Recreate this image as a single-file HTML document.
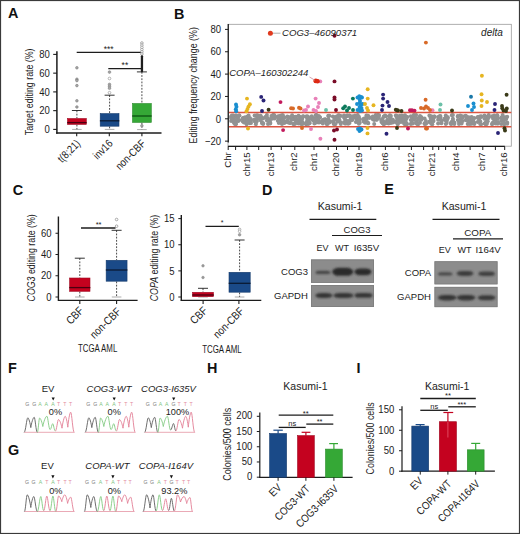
<!DOCTYPE html>
<html><head><meta charset="utf-8"><style>
html,body{margin:0;padding:0;background:#fff;}
svg{display:block;font-family:"Liberation Sans", sans-serif;}
</style></head><body>
<svg width="520" height="534" viewBox="0 0 520 534">
<defs><filter id="bl" x="-20%" y="-60%" width="140%" height="220%"><feGaussianBlur stdDeviation="0.9"/></filter></defs>
<rect width="520" height="534" fill="#fff"/>
<text transform="translate(8.00 18.40)" font-size="14.4" text-anchor="start" font-weight="bold" font-style="normal" fill="#111" class="pl">A</text>
<text transform="translate(174.00 18.50)" font-size="14.4" text-anchor="start" font-weight="bold" font-style="normal" fill="#111" class="pl">B</text>
<text transform="translate(12.80 194.80)" font-size="14.4" text-anchor="start" font-weight="bold" font-style="normal" fill="#111" class="pl">C</text>
<text transform="translate(262.00 194.80)" font-size="14.4" text-anchor="start" font-weight="bold" font-style="normal" fill="#111" class="pl">D</text>
<text transform="translate(384.20 193.90)" font-size="14.4" text-anchor="start" font-weight="bold" font-style="normal" fill="#111" class="pl">E</text>
<text transform="translate(7.90 372.80)" font-size="14.4" text-anchor="start" font-weight="bold" font-style="normal" fill="#111" class="pl">F</text>
<text transform="translate(8.10 454.80)" font-size="14.4" text-anchor="start" font-weight="bold" font-style="normal" fill="#111" class="pl">G</text>
<text transform="translate(207.10 372.60)" font-size="14.4" text-anchor="start" font-weight="bold" font-style="normal" fill="#111" class="pl">H</text>
<text transform="translate(356.40 372.60)" font-size="14.4" text-anchor="start" font-weight="bold" font-style="normal" fill="#111" class="pl">I</text>
<line x1="56.90" y1="51.30" x2="56.90" y2="133.80" stroke="#1c1c1c" stroke-width="1.5" />
<line x1="56.20" y1="133.10" x2="161.50" y2="133.10" stroke="#1c1c1c" stroke-width="1.5" />
<line x1="53.20" y1="129.40" x2="57.00" y2="129.40" stroke="#1c1c1c" stroke-width="1.1" />
<text transform="translate(49.80 133.10) scale(0.9 1)" font-size="10.6" text-anchor="end" font-weight="normal" font-style="normal" fill="#1c1c1c" >0</text>
<line x1="53.20" y1="110.65" x2="57.00" y2="110.65" stroke="#1c1c1c" stroke-width="1.1" />
<text transform="translate(49.80 114.35) scale(0.9 1)" font-size="10.6" text-anchor="end" font-weight="normal" font-style="normal" fill="#1c1c1c" >20</text>
<line x1="53.20" y1="91.90" x2="57.00" y2="91.90" stroke="#1c1c1c" stroke-width="1.1" />
<text transform="translate(49.80 95.60) scale(0.9 1)" font-size="10.6" text-anchor="end" font-weight="normal" font-style="normal" fill="#1c1c1c" >40</text>
<line x1="53.20" y1="73.15" x2="57.00" y2="73.15" stroke="#1c1c1c" stroke-width="1.1" />
<text transform="translate(49.80 76.85) scale(0.9 1)" font-size="10.6" text-anchor="end" font-weight="normal" font-style="normal" fill="#1c1c1c" >60</text>
<line x1="53.20" y1="54.40" x2="57.00" y2="54.40" stroke="#1c1c1c" stroke-width="1.1" />
<text transform="translate(49.80 58.10) scale(0.9 1)" font-size="10.6" text-anchor="end" font-weight="normal" font-style="normal" fill="#1c1c1c" >80</text>
<line x1="76.70" y1="133.00" x2="76.70" y2="136.20" stroke="#1c1c1c" stroke-width="1.1" />
<line x1="109.30" y1="133.00" x2="109.30" y2="136.20" stroke="#1c1c1c" stroke-width="1.1" />
<line x1="141.90" y1="133.00" x2="141.90" y2="136.20" stroke="#1c1c1c" stroke-width="1.1" />
<text transform="translate(33.10 91.80) rotate(-90) scale(0.76 1)" font-size="11.6" text-anchor="middle" font-weight="normal" font-style="normal" fill="#1c1c1c" >Target editing rate (%)</text>
<text transform="translate(81.00 144.20) rotate(-45) scale(0.85 1)" font-size="11" text-anchor="end" font-weight="normal" font-style="normal" fill="#1c1c1c" >t(8;21)</text>
<text transform="translate(113.30 144.20) rotate(-45) scale(0.85 1)" font-size="11" text-anchor="end" font-weight="normal" font-style="normal" fill="#1c1c1c" >inv16</text>
<text transform="translate(146.30 144.20) rotate(-45) scale(0.85 1)" font-size="11" text-anchor="end" font-weight="normal" font-style="normal" fill="#1c1c1c" >non-CBF</text>
<line x1="76.70" y1="52.30" x2="141.90" y2="52.30" stroke="#1c1c1c" stroke-width="1.3" />
<text transform="translate(108.60 51.70)" font-size="8.5" text-anchor="middle" font-weight="normal" font-style="normal" fill="#1c1c1c" >***</text>
<line x1="108.30" y1="68.60" x2="141.90" y2="68.60" stroke="#1c1c1c" stroke-width="1.3" />
<text transform="translate(124.90 67.90)" font-size="8.5" text-anchor="middle" font-weight="normal" font-style="normal" fill="#1c1c1c" >**</text>
<line x1="76.90" y1="110.50" x2="76.90" y2="118.20" stroke="#1c1c1c" stroke-width="0.8" stroke-dasharray="1.8,1.4" />
<line x1="76.90" y1="124.70" x2="76.90" y2="129.40" stroke="#1c1c1c" stroke-width="0.8" stroke-dasharray="1.8,1.4" />
<line x1="71.90" y1="110.50" x2="81.90" y2="110.50" stroke="#1c1c1c" stroke-width="0.9" />
<line x1="72.10" y1="129.40" x2="81.70" y2="129.40" stroke="#8a8a8a" stroke-width="0.7" />
<rect x="67.50" y="118.50" width="18.80" height="5.90" fill="#c4021f" stroke="#a00a22" stroke-width="0.6" />
<line x1="67.20" y1="122.60" x2="86.60" y2="122.60" stroke="#4a0010" stroke-width="1.3" />
<circle cx="76.90" cy="67.80" r="1.3" fill="#a8a8a8" stroke="#7a7a7a" stroke-width="0.6"/>
<circle cx="76.90" cy="79.20" r="1.3" fill="#a8a8a8" stroke="#7a7a7a" stroke-width="0.6"/>
<circle cx="76.90" cy="80.60" r="1.3" fill="#a8a8a8" stroke="#7a7a7a" stroke-width="0.6"/>
<circle cx="76.90" cy="85.60" r="1.3" fill="#a8a8a8" stroke="#7a7a7a" stroke-width="0.6"/>
<circle cx="76.90" cy="100.80" r="1.3" fill="#a8a8a8" stroke="#7a7a7a" stroke-width="0.6"/>
<circle cx="76.90" cy="107.00" r="1.3" fill="#a8a8a8" stroke="#7a7a7a" stroke-width="0.6"/>
<line x1="109.60" y1="95.20" x2="109.60" y2="113.30" stroke="#1c1c1c" stroke-width="0.8" stroke-dasharray="1.8,1.4" />
<line x1="109.60" y1="126.50" x2="109.60" y2="129.40" stroke="#1c1c1c" stroke-width="0.8" stroke-dasharray="1.8,1.4" />
<line x1="104.60" y1="95.20" x2="114.60" y2="95.20" stroke="#1c1c1c" stroke-width="0.9" />
<line x1="104.80" y1="129.40" x2="114.40" y2="129.40" stroke="#8a8a8a" stroke-width="0.7" />
<rect x="100.20" y="113.60" width="18.80" height="12.60" fill="#1a4a88" stroke="#143a6c" stroke-width="0.6" />
<line x1="99.90" y1="120.80" x2="119.30" y2="120.80" stroke="#0a1a33" stroke-width="1.3" />
<circle cx="109.50" cy="72.10" r="1.35" fill="#a0a0a0" stroke="#888" stroke-width="0.6"/>
<circle cx="109.50" cy="78.50" r="1.35" fill="#fff" stroke="#888" stroke-width="0.6"/>
<circle cx="109.50" cy="84.40" r="1.35" fill="#a8a8a8" stroke="#888" stroke-width="0.6"/>
<circle cx="109.50" cy="86.20" r="1.35" fill="#a8a8a8" stroke="#888" stroke-width="0.6"/>
<circle cx="109.50" cy="88.20" r="1.35" fill="#a8a8a8" stroke="#888" stroke-width="0.6"/>
<circle cx="109.50" cy="92.70" r="1.35" fill="#fff" stroke="#888" stroke-width="0.6"/>
<line x1="141.90" y1="71.90" x2="141.90" y2="103.20" stroke="#1c1c1c" stroke-width="0.8" stroke-dasharray="1.8,1.4" />
<line x1="141.90" y1="122.70" x2="141.90" y2="129.60" stroke="#1c1c1c" stroke-width="0.8" stroke-dasharray="1.8,1.4" />
<line x1="136.90" y1="71.90" x2="146.90" y2="71.90" stroke="#1c1c1c" stroke-width="0.9" />
<line x1="137.10" y1="129.60" x2="146.70" y2="129.60" stroke="#8a8a8a" stroke-width="0.7" />
<rect x="132.50" y="103.50" width="18.80" height="18.90" fill="#35a836" stroke="#2a8a2c" stroke-width="0.6" />
<line x1="132.20" y1="116.00" x2="151.60" y2="116.00" stroke="#0b4f10" stroke-width="1.3" />
<circle cx="141.90" cy="43.00" r="1.3" fill="#fff" stroke="#8a8a8a" stroke-width="0.7"/>
<circle cx="141.90" cy="45.20" r="1.3" fill="#fff" stroke="#8a8a8a" stroke-width="0.7"/>
<circle cx="141.90" cy="47.40" r="1.3" fill="#fff" stroke="#8a8a8a" stroke-width="0.7"/>
<circle cx="141.90" cy="49.60" r="1.3" fill="#fff" stroke="#8a8a8a" stroke-width="0.7"/>
<circle cx="141.90" cy="51.80" r="1.3" fill="#fff" stroke="#8a8a8a" stroke-width="0.7"/>
<circle cx="141.90" cy="54.00" r="1.3" fill="#fff" stroke="#8a8a8a" stroke-width="0.7"/>
<rect x="140.80" y="55.30" width="2.30" height="17.00" fill="#1e1e1e" rx="1"/>
<circle cx="141.90" cy="125.80" r="1.3" fill="#a8a8a8" stroke="#808080" stroke-width="0.6"/>
<rect x="228.00" y="24.30" width="283.30" height="121.90" fill="none" stroke="#9a9a9a" stroke-width="0.8" />
<line x1="228.30" y1="24.00" x2="228.30" y2="142.50" stroke="#1c1c1c" stroke-width="1.2" />
<line x1="225.00" y1="141.15" x2="228.30" y2="141.15" stroke="#1c1c1c" stroke-width="1" />
<text transform="translate(221.00 144.85) scale(0.9 1)" font-size="10.6" text-anchor="end" font-weight="normal" font-style="normal" fill="#1c1c1c" >−20</text>
<line x1="225.00" y1="118.80" x2="228.30" y2="118.80" stroke="#1c1c1c" stroke-width="1" />
<text transform="translate(221.00 122.50) scale(0.9 1)" font-size="10.6" text-anchor="end" font-weight="normal" font-style="normal" fill="#1c1c1c" >0</text>
<line x1="225.00" y1="96.45" x2="228.30" y2="96.45" stroke="#1c1c1c" stroke-width="1" />
<text transform="translate(221.00 100.15) scale(0.9 1)" font-size="10.6" text-anchor="end" font-weight="normal" font-style="normal" fill="#1c1c1c" >20</text>
<line x1="225.00" y1="74.10" x2="228.30" y2="74.10" stroke="#1c1c1c" stroke-width="1" />
<text transform="translate(221.00 77.80) scale(0.9 1)" font-size="10.6" text-anchor="end" font-weight="normal" font-style="normal" fill="#1c1c1c" >40</text>
<line x1="225.00" y1="51.75" x2="228.30" y2="51.75" stroke="#1c1c1c" stroke-width="1" />
<text transform="translate(221.00 55.45) scale(0.9 1)" font-size="10.6" text-anchor="end" font-weight="normal" font-style="normal" fill="#1c1c1c" >60</text>
<line x1="225.00" y1="29.40" x2="228.30" y2="29.40" stroke="#1c1c1c" stroke-width="1" />
<text transform="translate(221.00 33.10) scale(0.9 1)" font-size="10.6" text-anchor="end" font-weight="normal" font-style="normal" fill="#1c1c1c" >80</text>
<line x1="228.00" y1="146.40" x2="504.80" y2="146.40" stroke="#1c1c1c" stroke-width="1.2" />
<line x1="228.20" y1="146.40" x2="228.20" y2="150.00" stroke="#1c1c1c" stroke-width="1" />
<line x1="235.60" y1="146.40" x2="235.60" y2="150.00" stroke="#1c1c1c" stroke-width="1" />
<line x1="246.90" y1="146.40" x2="246.90" y2="150.00" stroke="#1c1c1c" stroke-width="1" />
<line x1="258.70" y1="146.40" x2="258.70" y2="150.00" stroke="#1c1c1c" stroke-width="1" />
<line x1="271.10" y1="146.40" x2="271.10" y2="150.00" stroke="#1c1c1c" stroke-width="1" />
<line x1="281.30" y1="146.40" x2="281.30" y2="150.00" stroke="#1c1c1c" stroke-width="1" />
<line x1="294.80" y1="146.40" x2="294.80" y2="150.00" stroke="#1c1c1c" stroke-width="1" />
<line x1="314.00" y1="146.40" x2="314.00" y2="150.00" stroke="#1c1c1c" stroke-width="1" />
<line x1="328.20" y1="146.40" x2="328.20" y2="150.00" stroke="#1c1c1c" stroke-width="1" />
<line x1="336.50" y1="146.40" x2="336.50" y2="150.00" stroke="#1c1c1c" stroke-width="1" />
<line x1="347.50" y1="146.40" x2="347.50" y2="150.00" stroke="#1c1c1c" stroke-width="1" />
<line x1="359.00" y1="146.40" x2="359.00" y2="150.00" stroke="#1c1c1c" stroke-width="1" />
<line x1="370.80" y1="146.40" x2="370.80" y2="150.00" stroke="#1c1c1c" stroke-width="1" />
<line x1="385.40" y1="146.40" x2="385.40" y2="150.00" stroke="#1c1c1c" stroke-width="1" />
<line x1="399.00" y1="146.40" x2="399.00" y2="150.00" stroke="#1c1c1c" stroke-width="1" />
<line x1="411.40" y1="146.40" x2="411.40" y2="150.00" stroke="#1c1c1c" stroke-width="1" />
<line x1="423.60" y1="146.40" x2="423.60" y2="150.00" stroke="#1c1c1c" stroke-width="1" />
<line x1="432.80" y1="146.40" x2="432.80" y2="150.00" stroke="#1c1c1c" stroke-width="1" />
<line x1="438.70" y1="146.40" x2="438.70" y2="150.00" stroke="#1c1c1c" stroke-width="1" />
<line x1="445.60" y1="146.40" x2="445.60" y2="150.00" stroke="#1c1c1c" stroke-width="1" />
<line x1="456.30" y1="146.40" x2="456.30" y2="150.00" stroke="#1c1c1c" stroke-width="1" />
<line x1="470.10" y1="146.40" x2="470.10" y2="150.00" stroke="#1c1c1c" stroke-width="1" />
<line x1="482.80" y1="146.40" x2="482.80" y2="150.00" stroke="#1c1c1c" stroke-width="1" />
<line x1="495.40" y1="146.40" x2="495.40" y2="150.00" stroke="#1c1c1c" stroke-width="1" />
<line x1="504.70" y1="146.40" x2="504.70" y2="150.00" stroke="#1c1c1c" stroke-width="1" />
<text transform="translate(196.60 85.30) rotate(-90) scale(0.765 1)" font-size="11.6" text-anchor="middle" font-weight="normal" font-style="normal" fill="#1c1c1c" >Editing frequency change (%)</text>
<text transform="translate(230.90 152.30) rotate(-90)" font-size="9.6" text-anchor="end" font-weight="normal" font-style="normal" fill="#1c1c1c" >Chr</text>
<text transform="translate(249.50 152.30) rotate(-90)" font-size="9.6" text-anchor="end" font-weight="normal" font-style="normal" fill="#1c1c1c" >chr15</text>
<text transform="translate(273.70 152.30) rotate(-90)" font-size="9.6" text-anchor="end" font-weight="normal" font-style="normal" fill="#1c1c1c" >chr13</text>
<text transform="translate(297.40 152.30) rotate(-90)" font-size="9.6" text-anchor="end" font-weight="normal" font-style="normal" fill="#1c1c1c" >chr2</text>
<text transform="translate(316.60 152.30) rotate(-90)" font-size="9.6" text-anchor="end" font-weight="normal" font-style="normal" fill="#1c1c1c" >chr1</text>
<text transform="translate(339.10 152.30) rotate(-90)" font-size="9.6" text-anchor="end" font-weight="normal" font-style="normal" fill="#1c1c1c" >chr20</text>
<text transform="translate(361.60 152.30) rotate(-90)" font-size="9.6" text-anchor="end" font-weight="normal" font-style="normal" fill="#1c1c1c" >chr19</text>
<text transform="translate(388.00 152.30) rotate(-90)" font-size="9.6" text-anchor="end" font-weight="normal" font-style="normal" fill="#1c1c1c" >chr6</text>
<text transform="translate(414.00 152.30) rotate(-90)" font-size="9.6" text-anchor="end" font-weight="normal" font-style="normal" fill="#1c1c1c" >chr12</text>
<text transform="translate(435.40 152.30) rotate(-90)" font-size="9.6" text-anchor="end" font-weight="normal" font-style="normal" fill="#1c1c1c" >chr21</text>
<text transform="translate(458.90 152.30) rotate(-90)" font-size="9.6" text-anchor="end" font-weight="normal" font-style="normal" fill="#1c1c1c" >chr4</text>
<text transform="translate(485.40 152.30) rotate(-90)" font-size="9.6" text-anchor="end" font-weight="normal" font-style="normal" fill="#1c1c1c" >chr7</text>
<text transform="translate(507.30 152.30) rotate(-90)" font-size="9.6" text-anchor="end" font-weight="normal" font-style="normal" fill="#1c1c1c" >chr16</text>
<g fill="#929292">
<circle cx="231.1" cy="118.0" r="2"/>
<circle cx="231.1" cy="116.4" r="2"/>
<circle cx="231.1" cy="121.1" r="2"/>
<circle cx="231.9" cy="120.0" r="2"/>
<circle cx="231.9" cy="118.4" r="2"/>
<circle cx="231.9" cy="115.5" r="2"/>
<circle cx="233.1" cy="115.4" r="2"/>
<circle cx="233.1" cy="119.1" r="2"/>
<circle cx="233.1" cy="115.7" r="2"/>
<circle cx="233.9" cy="119.0" r="2"/>
<circle cx="233.9" cy="122.8" r="2"/>
<circle cx="233.9" cy="116.2" r="2"/>
<circle cx="234.9" cy="120.9" r="2"/>
<circle cx="234.9" cy="123.9" r="2"/>
<circle cx="234.9" cy="120.4" r="2"/>
<circle cx="235.9" cy="124.2" r="2"/>
<circle cx="235.9" cy="115.4" r="2"/>
<circle cx="235.9" cy="123.1" r="2"/>
<circle cx="236.9" cy="116.4" r="2"/>
<circle cx="236.9" cy="116.1" r="2"/>
<circle cx="236.9" cy="117.9" r="2"/>
<circle cx="238.3" cy="116.7" r="2"/>
<circle cx="238.3" cy="120.5" r="2"/>
<circle cx="238.3" cy="121.0" r="2"/>
<circle cx="239.3" cy="120.1" r="2"/>
<circle cx="239.3" cy="115.6" r="2"/>
<circle cx="239.3" cy="115.6" r="2"/>
<circle cx="242.8" cy="121.4" r="2"/>
<circle cx="242.8" cy="119.0" r="2"/>
<circle cx="242.8" cy="118.0" r="2"/>
<circle cx="244.0" cy="119.3" r="2"/>
<circle cx="244.0" cy="117.8" r="2"/>
<circle cx="244.0" cy="122.5" r="2"/>
<circle cx="245.2" cy="117.3" r="2"/>
<circle cx="245.2" cy="120.4" r="2"/>
<circle cx="245.2" cy="119.9" r="2"/>
<circle cx="246.6" cy="121.9" r="2"/>
<circle cx="246.6" cy="117.7" r="2"/>
<circle cx="246.6" cy="124.2" r="2"/>
<circle cx="247.5" cy="118.9" r="2"/>
<circle cx="247.5" cy="122.1" r="2"/>
<circle cx="247.5" cy="116.4" r="2"/>
<circle cx="248.6" cy="115.4" r="2"/>
<circle cx="248.6" cy="121.3" r="2"/>
<circle cx="248.6" cy="122.2" r="2"/>
<circle cx="249.8" cy="123.2" r="2"/>
<circle cx="249.8" cy="117.9" r="2"/>
<circle cx="249.8" cy="121.5" r="2"/>
<circle cx="251.0" cy="120.5" r="2"/>
<circle cx="251.0" cy="119.3" r="2"/>
<circle cx="251.0" cy="122.9" r="2"/>
<circle cx="254.6" cy="119.5" r="2"/>
<circle cx="254.6" cy="121.2" r="2"/>
<circle cx="254.6" cy="115.6" r="2"/>
<circle cx="255.9" cy="121.1" r="2"/>
<circle cx="255.9" cy="124.3" r="2"/>
<circle cx="255.9" cy="122.7" r="2"/>
<circle cx="256.8" cy="118.6" r="2"/>
<circle cx="256.8" cy="121.3" r="2"/>
<circle cx="256.8" cy="115.2" r="2"/>
<circle cx="257.9" cy="116.6" r="2"/>
<circle cx="257.9" cy="116.1" r="2"/>
<circle cx="257.9" cy="115.6" r="2"/>
<circle cx="259.2" cy="116.2" r="2"/>
<circle cx="259.2" cy="117.3" r="2"/>
<circle cx="259.2" cy="118.7" r="2"/>
<circle cx="260.6" cy="115.8" r="2"/>
<circle cx="260.6" cy="119.2" r="2"/>
<circle cx="260.6" cy="120.2" r="2"/>
<circle cx="262.0" cy="122.7" r="2"/>
<circle cx="262.0" cy="123.1" r="2"/>
<circle cx="262.0" cy="117.6" r="2"/>
<circle cx="263.1" cy="118.4" r="2"/>
<circle cx="263.1" cy="123.3" r="2"/>
<circle cx="263.1" cy="124.0" r="2"/>
<circle cx="265.8" cy="116.7" r="2"/>
<circle cx="265.8" cy="117.2" r="2"/>
<circle cx="265.8" cy="117.2" r="2"/>
<circle cx="266.9" cy="120.5" r="2"/>
<circle cx="266.9" cy="117.5" r="2"/>
<circle cx="266.9" cy="115.0" r="2"/>
<circle cx="268.0" cy="118.5" r="2"/>
<circle cx="268.0" cy="120.3" r="2"/>
<circle cx="268.0" cy="124.0" r="2"/>
<circle cx="269.2" cy="119.8" r="2"/>
<circle cx="269.2" cy="120.8" r="2"/>
<circle cx="269.2" cy="121.4" r="2"/>
<circle cx="270.1" cy="123.5" r="2"/>
<circle cx="270.1" cy="122.3" r="2"/>
<circle cx="270.1" cy="123.2" r="2"/>
<circle cx="271.4" cy="118.7" r="2"/>
<circle cx="271.4" cy="118.8" r="2"/>
<circle cx="271.4" cy="116.0" r="2"/>
<circle cx="272.6" cy="115.6" r="2"/>
<circle cx="272.6" cy="115.6" r="2"/>
<circle cx="272.6" cy="117.0" r="2"/>
<circle cx="273.5" cy="118.2" r="2"/>
<circle cx="273.5" cy="115.5" r="2"/>
<circle cx="273.5" cy="115.0" r="2"/>
<circle cx="274.4" cy="116.0" r="2"/>
<circle cx="274.4" cy="118.4" r="2"/>
<circle cx="274.4" cy="115.2" r="2"/>
<circle cx="277.8" cy="120.8" r="2"/>
<circle cx="277.8" cy="116.4" r="2"/>
<circle cx="277.8" cy="117.4" r="2"/>
<circle cx="278.8" cy="118.4" r="2"/>
<circle cx="278.8" cy="116.2" r="2"/>
<circle cx="278.8" cy="123.0" r="2"/>
<circle cx="280.3" cy="119.4" r="2"/>
<circle cx="280.3" cy="119.5" r="2"/>
<circle cx="280.3" cy="115.8" r="2"/>
<circle cx="281.1" cy="118.2" r="2"/>
<circle cx="281.1" cy="117.5" r="2"/>
<circle cx="281.1" cy="122.8" r="2"/>
<circle cx="282.0" cy="115.2" r="2"/>
<circle cx="282.0" cy="123.9" r="2"/>
<circle cx="282.0" cy="120.0" r="2"/>
<circle cx="282.9" cy="120.1" r="2"/>
<circle cx="282.9" cy="115.3" r="2"/>
<circle cx="282.9" cy="120.0" r="2"/>
<circle cx="284.4" cy="123.1" r="2"/>
<circle cx="284.4" cy="121.5" r="2"/>
<circle cx="284.4" cy="117.5" r="2"/>
<circle cx="287.3" cy="116.6" r="2"/>
<circle cx="287.3" cy="122.3" r="2"/>
<circle cx="287.3" cy="120.0" r="2"/>
<circle cx="288.6" cy="118.1" r="2"/>
<circle cx="288.6" cy="117.1" r="2"/>
<circle cx="288.6" cy="122.6" r="2"/>
<circle cx="290.0" cy="123.0" r="2"/>
<circle cx="290.0" cy="122.6" r="2"/>
<circle cx="290.0" cy="122.7" r="2"/>
<circle cx="291.3" cy="117.1" r="2"/>
<circle cx="291.3" cy="119.9" r="2"/>
<circle cx="291.3" cy="118.3" r="2"/>
<circle cx="292.1" cy="115.3" r="2"/>
<circle cx="292.1" cy="117.6" r="2"/>
<circle cx="292.1" cy="117.4" r="2"/>
<circle cx="293.4" cy="124.0" r="2"/>
<circle cx="293.4" cy="119.2" r="2"/>
<circle cx="293.4" cy="123.8" r="2"/>
<circle cx="294.8" cy="124.0" r="2"/>
<circle cx="294.8" cy="118.4" r="2"/>
<circle cx="294.8" cy="117.1" r="2"/>
<circle cx="295.8" cy="116.8" r="2"/>
<circle cx="295.8" cy="116.9" r="2"/>
<circle cx="295.8" cy="120.9" r="2"/>
<circle cx="297.2" cy="122.9" r="2"/>
<circle cx="297.2" cy="119.5" r="2"/>
<circle cx="297.2" cy="121.1" r="2"/>
<circle cx="298.5" cy="115.8" r="2"/>
<circle cx="298.5" cy="121.2" r="2"/>
<circle cx="298.5" cy="123.6" r="2"/>
<circle cx="299.8" cy="122.1" r="2"/>
<circle cx="299.8" cy="119.5" r="2"/>
<circle cx="299.8" cy="116.7" r="2"/>
<circle cx="301.1" cy="118.1" r="2"/>
<circle cx="301.1" cy="122.5" r="2"/>
<circle cx="301.1" cy="124.1" r="2"/>
<circle cx="302.2" cy="118.8" r="2"/>
<circle cx="302.2" cy="123.9" r="2"/>
<circle cx="302.2" cy="121.8" r="2"/>
<circle cx="303.1" cy="116.2" r="2"/>
<circle cx="303.1" cy="116.4" r="2"/>
<circle cx="303.1" cy="123.5" r="2"/>
<circle cx="306.1" cy="116.4" r="2"/>
<circle cx="306.1" cy="122.8" r="2"/>
<circle cx="306.1" cy="124.2" r="2"/>
<circle cx="307.3" cy="118.3" r="2"/>
<circle cx="307.3" cy="120.2" r="2"/>
<circle cx="307.3" cy="116.2" r="2"/>
<circle cx="308.1" cy="124.1" r="2"/>
<circle cx="308.1" cy="121.1" r="2"/>
<circle cx="308.1" cy="119.9" r="2"/>
<circle cx="309.5" cy="119.1" r="2"/>
<circle cx="309.5" cy="123.2" r="2"/>
<circle cx="309.5" cy="122.8" r="2"/>
<circle cx="310.5" cy="117.4" r="2"/>
<circle cx="310.5" cy="117.8" r="2"/>
<circle cx="310.5" cy="117.3" r="2"/>
<circle cx="311.7" cy="117.4" r="2"/>
<circle cx="311.7" cy="118.9" r="2"/>
<circle cx="311.7" cy="116.2" r="2"/>
<circle cx="313.1" cy="118.3" r="2"/>
<circle cx="313.1" cy="119.3" r="2"/>
<circle cx="313.1" cy="120.5" r="2"/>
<circle cx="314.4" cy="119.0" r="2"/>
<circle cx="314.4" cy="123.6" r="2"/>
<circle cx="314.4" cy="119.7" r="2"/>
<circle cx="315.6" cy="119.9" r="2"/>
<circle cx="315.6" cy="115.2" r="2"/>
<circle cx="315.6" cy="119.1" r="2"/>
<circle cx="316.5" cy="115.0" r="2"/>
<circle cx="316.5" cy="122.5" r="2"/>
<circle cx="316.5" cy="116.6" r="2"/>
<circle cx="317.6" cy="121.8" r="2"/>
<circle cx="317.6" cy="120.2" r="2"/>
<circle cx="317.6" cy="118.1" r="2"/>
<circle cx="318.8" cy="120.2" r="2"/>
<circle cx="318.8" cy="122.4" r="2"/>
<circle cx="318.8" cy="116.0" r="2"/>
<circle cx="319.9" cy="117.3" r="2"/>
<circle cx="319.9" cy="117.6" r="2"/>
<circle cx="319.9" cy="122.3" r="2"/>
<circle cx="322.8" cy="120.3" r="2"/>
<circle cx="322.8" cy="122.1" r="2"/>
<circle cx="322.8" cy="123.6" r="2"/>
<circle cx="323.9" cy="120.8" r="2"/>
<circle cx="323.9" cy="119.8" r="2"/>
<circle cx="323.9" cy="119.8" r="2"/>
<circle cx="325.1" cy="119.3" r="2"/>
<circle cx="325.1" cy="120.0" r="2"/>
<circle cx="325.1" cy="119.5" r="2"/>
<circle cx="326.6" cy="121.6" r="2"/>
<circle cx="326.6" cy="123.2" r="2"/>
<circle cx="326.6" cy="123.9" r="2"/>
<circle cx="327.5" cy="120.3" r="2"/>
<circle cx="327.5" cy="123.9" r="2"/>
<circle cx="327.5" cy="122.9" r="2"/>
<circle cx="328.4" cy="116.1" r="2"/>
<circle cx="328.4" cy="119.2" r="2"/>
<circle cx="328.4" cy="115.7" r="2"/>
<circle cx="329.4" cy="115.7" r="2"/>
<circle cx="329.4" cy="121.3" r="2"/>
<circle cx="329.4" cy="122.4" r="2"/>
<circle cx="332.9" cy="116.5" r="2"/>
<circle cx="332.9" cy="121.7" r="2"/>
<circle cx="332.9" cy="121.2" r="2"/>
<circle cx="333.8" cy="123.3" r="2"/>
<circle cx="333.8" cy="124.1" r="2"/>
<circle cx="333.8" cy="117.1" r="2"/>
<circle cx="335.2" cy="118.7" r="2"/>
<circle cx="335.2" cy="119.6" r="2"/>
<circle cx="335.2" cy="124.3" r="2"/>
<circle cx="336.6" cy="116.5" r="2"/>
<circle cx="336.6" cy="119.1" r="2"/>
<circle cx="336.6" cy="119.8" r="2"/>
<circle cx="337.6" cy="116.8" r="2"/>
<circle cx="337.6" cy="118.0" r="2"/>
<circle cx="337.6" cy="121.8" r="2"/>
<circle cx="338.4" cy="120.2" r="2"/>
<circle cx="338.4" cy="119.1" r="2"/>
<circle cx="338.4" cy="115.2" r="2"/>
<circle cx="339.4" cy="120.9" r="2"/>
<circle cx="339.4" cy="119.8" r="2"/>
<circle cx="339.4" cy="115.6" r="2"/>
<circle cx="340.8" cy="122.4" r="2"/>
<circle cx="340.8" cy="124.1" r="2"/>
<circle cx="340.8" cy="116.0" r="2"/>
<circle cx="344.0" cy="115.4" r="2"/>
<circle cx="344.0" cy="122.3" r="2"/>
<circle cx="344.0" cy="117.5" r="2"/>
<circle cx="344.9" cy="119.0" r="2"/>
<circle cx="344.9" cy="123.6" r="2"/>
<circle cx="344.9" cy="122.7" r="2"/>
<circle cx="345.9" cy="116.4" r="2"/>
<circle cx="345.9" cy="123.6" r="2"/>
<circle cx="345.9" cy="120.4" r="2"/>
<circle cx="347.1" cy="115.8" r="2"/>
<circle cx="347.1" cy="115.5" r="2"/>
<circle cx="347.1" cy="121.5" r="2"/>
<circle cx="348.2" cy="115.7" r="2"/>
<circle cx="348.2" cy="123.8" r="2"/>
<circle cx="348.2" cy="121.0" r="2"/>
<circle cx="349.5" cy="115.8" r="2"/>
<circle cx="349.5" cy="123.0" r="2"/>
<circle cx="349.5" cy="115.6" r="2"/>
<circle cx="350.9" cy="119.3" r="2"/>
<circle cx="350.9" cy="118.2" r="2"/>
<circle cx="350.9" cy="120.2" r="2"/>
<circle cx="352.3" cy="117.5" r="2"/>
<circle cx="352.3" cy="116.2" r="2"/>
<circle cx="352.3" cy="120.0" r="2"/>
<circle cx="355.0" cy="116.0" r="2"/>
<circle cx="355.0" cy="116.5" r="2"/>
<circle cx="355.0" cy="115.5" r="2"/>
<circle cx="355.9" cy="117.9" r="2"/>
<circle cx="355.9" cy="117.9" r="2"/>
<circle cx="355.9" cy="122.1" r="2"/>
<circle cx="356.9" cy="119.7" r="2"/>
<circle cx="356.9" cy="116.7" r="2"/>
<circle cx="356.9" cy="118.3" r="2"/>
<circle cx="357.7" cy="117.4" r="2"/>
<circle cx="357.7" cy="115.1" r="2"/>
<circle cx="357.7" cy="121.9" r="2"/>
<circle cx="358.9" cy="116.8" r="2"/>
<circle cx="358.9" cy="119.5" r="2"/>
<circle cx="358.9" cy="123.8" r="2"/>
<circle cx="359.8" cy="122.7" r="2"/>
<circle cx="359.8" cy="119.1" r="2"/>
<circle cx="359.8" cy="119.7" r="2"/>
<circle cx="363.7" cy="118.7" r="2"/>
<circle cx="363.7" cy="119.8" r="2"/>
<circle cx="363.7" cy="121.5" r="2"/>
<circle cx="365.1" cy="118.2" r="2"/>
<circle cx="365.1" cy="122.8" r="2"/>
<circle cx="365.1" cy="121.6" r="2"/>
<circle cx="366.4" cy="118.8" r="2"/>
<circle cx="366.4" cy="118.3" r="2"/>
<circle cx="366.4" cy="115.5" r="2"/>
<circle cx="367.2" cy="115.7" r="2"/>
<circle cx="367.2" cy="122.0" r="2"/>
<circle cx="367.2" cy="117.4" r="2"/>
<circle cx="368.1" cy="115.8" r="2"/>
<circle cx="368.1" cy="122.9" r="2"/>
<circle cx="368.1" cy="123.2" r="2"/>
<circle cx="369.4" cy="117.7" r="2"/>
<circle cx="369.4" cy="117.3" r="2"/>
<circle cx="369.4" cy="117.8" r="2"/>
<circle cx="372.8" cy="116.5" r="2"/>
<circle cx="372.8" cy="119.2" r="2"/>
<circle cx="372.8" cy="117.5" r="2"/>
<circle cx="374.2" cy="124.1" r="2"/>
<circle cx="374.2" cy="120.1" r="2"/>
<circle cx="374.2" cy="117.3" r="2"/>
<circle cx="375.7" cy="117.9" r="2"/>
<circle cx="375.7" cy="118.4" r="2"/>
<circle cx="375.7" cy="115.0" r="2"/>
<circle cx="376.7" cy="119.5" r="2"/>
<circle cx="376.7" cy="119.7" r="2"/>
<circle cx="376.7" cy="116.9" r="2"/>
<circle cx="377.8" cy="115.0" r="2"/>
<circle cx="377.8" cy="117.5" r="2"/>
<circle cx="377.8" cy="115.8" r="2"/>
<circle cx="378.9" cy="115.4" r="2"/>
<circle cx="378.9" cy="115.2" r="2"/>
<circle cx="378.9" cy="117.9" r="2"/>
<circle cx="381.5" cy="120.5" r="2"/>
<circle cx="381.5" cy="120.0" r="2"/>
<circle cx="381.5" cy="122.1" r="2"/>
<circle cx="382.7" cy="121.7" r="2"/>
<circle cx="382.7" cy="123.3" r="2"/>
<circle cx="382.7" cy="118.7" r="2"/>
<circle cx="383.7" cy="124.3" r="2"/>
<circle cx="383.7" cy="116.4" r="2"/>
<circle cx="383.7" cy="121.8" r="2"/>
<circle cx="385.0" cy="115.4" r="2"/>
<circle cx="385.0" cy="122.9" r="2"/>
<circle cx="385.0" cy="123.4" r="2"/>
<circle cx="386.2" cy="121.9" r="2"/>
<circle cx="386.2" cy="122.6" r="2"/>
<circle cx="386.2" cy="116.3" r="2"/>
<circle cx="387.3" cy="119.7" r="2"/>
<circle cx="387.3" cy="122.8" r="2"/>
<circle cx="387.3" cy="122.6" r="2"/>
<circle cx="388.6" cy="120.5" r="2"/>
<circle cx="388.6" cy="123.4" r="2"/>
<circle cx="388.6" cy="121.4" r="2"/>
<circle cx="389.9" cy="117.2" r="2"/>
<circle cx="389.9" cy="115.3" r="2"/>
<circle cx="389.9" cy="116.3" r="2"/>
<circle cx="390.9" cy="116.0" r="2"/>
<circle cx="390.9" cy="122.9" r="2"/>
<circle cx="390.9" cy="120.3" r="2"/>
<circle cx="392.1" cy="120.9" r="2"/>
<circle cx="392.1" cy="121.4" r="2"/>
<circle cx="392.1" cy="119.6" r="2"/>
<circle cx="392.9" cy="122.5" r="2"/>
<circle cx="392.9" cy="122.0" r="2"/>
<circle cx="392.9" cy="119.7" r="2"/>
<circle cx="395.8" cy="121.2" r="2"/>
<circle cx="395.8" cy="115.6" r="2"/>
<circle cx="395.8" cy="121.9" r="2"/>
<circle cx="396.8" cy="115.7" r="2"/>
<circle cx="396.8" cy="117.5" r="2"/>
<circle cx="396.8" cy="121.9" r="2"/>
<circle cx="397.7" cy="122.0" r="2"/>
<circle cx="397.7" cy="124.2" r="2"/>
<circle cx="397.7" cy="119.6" r="2"/>
<circle cx="398.7" cy="119.5" r="2"/>
<circle cx="398.7" cy="121.4" r="2"/>
<circle cx="398.7" cy="122.2" r="2"/>
<circle cx="399.9" cy="121.0" r="2"/>
<circle cx="399.9" cy="115.7" r="2"/>
<circle cx="399.9" cy="116.4" r="2"/>
<circle cx="400.9" cy="122.0" r="2"/>
<circle cx="400.9" cy="117.9" r="2"/>
<circle cx="400.9" cy="120.3" r="2"/>
<circle cx="401.7" cy="115.6" r="2"/>
<circle cx="401.7" cy="117.5" r="2"/>
<circle cx="401.7" cy="121.3" r="2"/>
<circle cx="403.0" cy="121.4" r="2"/>
<circle cx="403.0" cy="117.7" r="2"/>
<circle cx="403.0" cy="119.9" r="2"/>
<circle cx="404.1" cy="119.4" r="2"/>
<circle cx="404.1" cy="116.1" r="2"/>
<circle cx="404.1" cy="123.4" r="2"/>
<circle cx="405.0" cy="124.2" r="2"/>
<circle cx="405.0" cy="123.8" r="2"/>
<circle cx="405.0" cy="115.2" r="2"/>
<circle cx="406.1" cy="122.7" r="2"/>
<circle cx="406.1" cy="124.1" r="2"/>
<circle cx="406.1" cy="119.2" r="2"/>
<circle cx="407.1" cy="117.0" r="2"/>
<circle cx="407.1" cy="123.9" r="2"/>
<circle cx="407.1" cy="117.0" r="2"/>
<circle cx="410.8" cy="116.3" r="2"/>
<circle cx="410.8" cy="119.9" r="2"/>
<circle cx="410.8" cy="124.0" r="2"/>
<circle cx="411.7" cy="122.7" r="2"/>
<circle cx="411.7" cy="119.8" r="2"/>
<circle cx="411.7" cy="123.3" r="2"/>
<circle cx="412.9" cy="117.2" r="2"/>
<circle cx="412.9" cy="123.4" r="2"/>
<circle cx="412.9" cy="119.6" r="2"/>
<circle cx="413.8" cy="115.0" r="2"/>
<circle cx="413.8" cy="119.6" r="2"/>
<circle cx="413.8" cy="119.2" r="2"/>
<circle cx="414.8" cy="116.3" r="2"/>
<circle cx="414.8" cy="118.2" r="2"/>
<circle cx="414.8" cy="118.0" r="2"/>
<circle cx="416.1" cy="115.0" r="2"/>
<circle cx="416.1" cy="122.1" r="2"/>
<circle cx="416.1" cy="122.9" r="2"/>
<circle cx="417.0" cy="123.7" r="2"/>
<circle cx="417.0" cy="121.7" r="2"/>
<circle cx="417.0" cy="123.5" r="2"/>
<circle cx="418.0" cy="118.5" r="2"/>
<circle cx="418.0" cy="118.7" r="2"/>
<circle cx="418.0" cy="124.4" r="2"/>
<circle cx="419.2" cy="118.4" r="2"/>
<circle cx="419.2" cy="119.0" r="2"/>
<circle cx="419.2" cy="117.6" r="2"/>
<circle cx="420.0" cy="116.0" r="2"/>
<circle cx="420.0" cy="122.8" r="2"/>
<circle cx="420.0" cy="117.7" r="2"/>
<circle cx="421.4" cy="117.3" r="2"/>
<circle cx="421.4" cy="117.5" r="2"/>
<circle cx="421.4" cy="119.8" r="2"/>
<circle cx="424.6" cy="118.5" r="2"/>
<circle cx="424.6" cy="124.0" r="2"/>
<circle cx="424.6" cy="123.3" r="2"/>
<circle cx="425.9" cy="120.9" r="2"/>
<circle cx="425.9" cy="123.6" r="2"/>
<circle cx="425.9" cy="123.8" r="2"/>
<circle cx="429.4" cy="121.8" r="2"/>
<circle cx="429.4" cy="115.5" r="2"/>
<circle cx="429.4" cy="121.9" r="2"/>
<circle cx="430.5" cy="122.1" r="2"/>
<circle cx="430.5" cy="121.1" r="2"/>
<circle cx="430.5" cy="117.7" r="2"/>
<circle cx="431.3" cy="123.7" r="2"/>
<circle cx="431.3" cy="116.2" r="2"/>
<circle cx="431.3" cy="119.4" r="2"/>
<circle cx="432.3" cy="117.8" r="2"/>
<circle cx="432.3" cy="121.9" r="2"/>
<circle cx="432.3" cy="124.2" r="2"/>
<circle cx="433.3" cy="121.2" r="2"/>
<circle cx="433.3" cy="117.8" r="2"/>
<circle cx="433.3" cy="120.2" r="2"/>
<circle cx="434.4" cy="116.6" r="2"/>
<circle cx="434.4" cy="116.5" r="2"/>
<circle cx="434.4" cy="117.0" r="2"/>
<circle cx="438.1" cy="119.7" r="2"/>
<circle cx="438.1" cy="117.1" r="2"/>
<circle cx="438.1" cy="123.5" r="2"/>
<circle cx="439.5" cy="119.2" r="2"/>
<circle cx="439.5" cy="116.3" r="2"/>
<circle cx="439.5" cy="116.8" r="2"/>
<circle cx="440.4" cy="118.2" r="2"/>
<circle cx="440.4" cy="115.9" r="2"/>
<circle cx="440.4" cy="117.2" r="2"/>
<circle cx="441.4" cy="120.4" r="2"/>
<circle cx="441.4" cy="123.3" r="2"/>
<circle cx="441.4" cy="122.0" r="2"/>
<circle cx="444.8" cy="118.9" r="2"/>
<circle cx="444.8" cy="119.9" r="2"/>
<circle cx="444.8" cy="118.5" r="2"/>
<circle cx="445.8" cy="115.6" r="2"/>
<circle cx="445.8" cy="117.6" r="2"/>
<circle cx="445.8" cy="124.1" r="2"/>
<circle cx="446.7" cy="119.7" r="2"/>
<circle cx="446.7" cy="120.9" r="2"/>
<circle cx="446.7" cy="123.1" r="2"/>
<circle cx="447.6" cy="117.5" r="2"/>
<circle cx="447.6" cy="117.3" r="2"/>
<circle cx="447.6" cy="118.8" r="2"/>
<circle cx="451.0" cy="124.0" r="2"/>
<circle cx="451.0" cy="123.0" r="2"/>
<circle cx="451.0" cy="123.2" r="2"/>
<circle cx="451.8" cy="115.3" r="2"/>
<circle cx="451.8" cy="121.7" r="2"/>
<circle cx="451.8" cy="123.4" r="2"/>
<circle cx="452.9" cy="120.5" r="2"/>
<circle cx="452.9" cy="115.0" r="2"/>
<circle cx="452.9" cy="118.7" r="2"/>
<circle cx="454.3" cy="122.8" r="2"/>
<circle cx="454.3" cy="123.0" r="2"/>
<circle cx="454.3" cy="124.1" r="2"/>
<circle cx="457.8" cy="116.0" r="2"/>
<circle cx="457.8" cy="116.5" r="2"/>
<circle cx="457.8" cy="119.9" r="2"/>
<circle cx="459.0" cy="123.9" r="2"/>
<circle cx="459.0" cy="121.8" r="2"/>
<circle cx="459.0" cy="121.1" r="2"/>
<circle cx="460.3" cy="119.3" r="2"/>
<circle cx="460.3" cy="120.2" r="2"/>
<circle cx="460.3" cy="115.4" r="2"/>
<circle cx="461.6" cy="117.2" r="2"/>
<circle cx="461.6" cy="123.6" r="2"/>
<circle cx="461.6" cy="121.1" r="2"/>
<circle cx="462.6" cy="116.2" r="2"/>
<circle cx="462.6" cy="117.4" r="2"/>
<circle cx="462.6" cy="121.0" r="2"/>
<circle cx="465.7" cy="116.1" r="2"/>
<circle cx="465.7" cy="115.7" r="2"/>
<circle cx="465.7" cy="119.9" r="2"/>
<circle cx="466.9" cy="118.6" r="2"/>
<circle cx="466.9" cy="117.1" r="2"/>
<circle cx="466.9" cy="120.6" r="2"/>
<circle cx="467.7" cy="117.8" r="2"/>
<circle cx="467.7" cy="119.3" r="2"/>
<circle cx="467.7" cy="124.0" r="2"/>
<circle cx="468.9" cy="123.3" r="2"/>
<circle cx="468.9" cy="119.5" r="2"/>
<circle cx="468.9" cy="117.2" r="2"/>
<circle cx="469.9" cy="124.0" r="2"/>
<circle cx="469.9" cy="121.6" r="2"/>
<circle cx="469.9" cy="117.9" r="2"/>
<circle cx="470.7" cy="119.7" r="2"/>
<circle cx="470.7" cy="121.3" r="2"/>
<circle cx="470.7" cy="118.9" r="2"/>
<circle cx="471.6" cy="121.3" r="2"/>
<circle cx="471.6" cy="123.7" r="2"/>
<circle cx="471.6" cy="117.1" r="2"/>
<circle cx="472.5" cy="118.2" r="2"/>
<circle cx="472.5" cy="119.0" r="2"/>
<circle cx="472.5" cy="121.4" r="2"/>
<circle cx="473.4" cy="122.5" r="2"/>
<circle cx="473.4" cy="121.9" r="2"/>
<circle cx="473.4" cy="119.7" r="2"/>
<circle cx="474.3" cy="124.1" r="2"/>
<circle cx="474.3" cy="117.9" r="2"/>
<circle cx="474.3" cy="122.7" r="2"/>
<circle cx="477.7" cy="117.1" r="2"/>
<circle cx="477.7" cy="122.1" r="2"/>
<circle cx="477.7" cy="117.8" r="2"/>
<circle cx="479.1" cy="119.7" r="2"/>
<circle cx="479.1" cy="116.8" r="2"/>
<circle cx="479.1" cy="117.1" r="2"/>
<circle cx="480.2" cy="121.3" r="2"/>
<circle cx="480.2" cy="123.9" r="2"/>
<circle cx="480.2" cy="116.4" r="2"/>
<circle cx="481.2" cy="117.0" r="2"/>
<circle cx="481.2" cy="124.2" r="2"/>
<circle cx="481.2" cy="116.3" r="2"/>
<circle cx="484.5" cy="115.6" r="2"/>
<circle cx="484.5" cy="118.7" r="2"/>
<circle cx="484.5" cy="123.4" r="2"/>
<circle cx="485.9" cy="121.9" r="2"/>
<circle cx="485.9" cy="124.4" r="2"/>
<circle cx="485.9" cy="123.8" r="2"/>
<circle cx="486.9" cy="116.7" r="2"/>
<circle cx="486.9" cy="123.8" r="2"/>
<circle cx="486.9" cy="122.0" r="2"/>
<circle cx="487.7" cy="121.2" r="2"/>
<circle cx="487.7" cy="118.6" r="2"/>
<circle cx="487.7" cy="118.5" r="2"/>
<circle cx="488.7" cy="116.6" r="2"/>
<circle cx="488.7" cy="115.0" r="2"/>
<circle cx="488.7" cy="117.6" r="2"/>
<circle cx="492.1" cy="124.0" r="2"/>
<circle cx="492.1" cy="116.2" r="2"/>
<circle cx="492.1" cy="124.1" r="2"/>
<circle cx="493.0" cy="118.4" r="2"/>
<circle cx="493.0" cy="122.7" r="2"/>
<circle cx="493.0" cy="122.7" r="2"/>
<circle cx="494.1" cy="115.5" r="2"/>
<circle cx="494.1" cy="119.5" r="2"/>
<circle cx="494.1" cy="118.5" r="2"/>
<circle cx="495.5" cy="116.8" r="2"/>
<circle cx="495.5" cy="118.4" r="2"/>
<circle cx="495.5" cy="123.4" r="2"/>
<circle cx="496.3" cy="118.9" r="2"/>
<circle cx="496.3" cy="122.6" r="2"/>
<circle cx="496.3" cy="122.2" r="2"/>
<circle cx="497.2" cy="115.3" r="2"/>
<circle cx="497.2" cy="115.6" r="2"/>
<circle cx="497.2" cy="123.6" r="2"/>
<circle cx="498.1" cy="122.0" r="2"/>
<circle cx="498.1" cy="123.4" r="2"/>
<circle cx="498.1" cy="118.2" r="2"/>
<circle cx="501.3" cy="124.0" r="2"/>
<circle cx="501.3" cy="120.8" r="2"/>
<circle cx="501.3" cy="117.5" r="2"/>
<circle cx="502.6" cy="118.0" r="2"/>
<circle cx="502.6" cy="117.6" r="2"/>
<circle cx="502.6" cy="115.0" r="2"/>
<circle cx="503.9" cy="123.6" r="2"/>
<circle cx="503.9" cy="121.0" r="2"/>
<circle cx="503.9" cy="123.9" r="2"/>
<circle cx="504.7" cy="117.2" r="2"/>
<circle cx="504.7" cy="119.5" r="2"/>
<circle cx="504.7" cy="124.0" r="2"/>
<circle cx="506.1" cy="118.6" r="2"/>
<circle cx="506.1" cy="117.4" r="2"/>
<circle cx="506.1" cy="119.0" r="2"/>
<circle cx="507.2" cy="123.7" r="2"/>
<circle cx="507.2" cy="116.7" r="2"/>
<circle cx="507.2" cy="122.5" r="2"/>
</g>
<line x1="229.00" y1="112.50" x2="511.30" y2="112.50" stroke="#dc5540" stroke-width="1.4" />
<line x1="229.00" y1="126.80" x2="511.30" y2="126.80" stroke="#dc5540" stroke-width="1.4" />
<circle cx="236.00" cy="104.50" r="1.95" fill="#1a8fd0"/>
<circle cx="236.50" cy="106.80" r="1.95" fill="#1a8fd0"/>
<circle cx="235.80" cy="109.20" r="1.95" fill="#1a8fd0"/>
<circle cx="236.20" cy="111.20" r="1.95" fill="#1a8fd0"/>
<circle cx="247.00" cy="98.60" r="1.95" fill="#e6b520"/>
<circle cx="249.90" cy="104.30" r="1.95" fill="#e6b520"/>
<circle cx="248.50" cy="106.60" r="1.95" fill="#e6b520"/>
<circle cx="247.50" cy="109.00" r="1.95" fill="#e6b520"/>
<circle cx="246.50" cy="111.20" r="1.95" fill="#e6b520"/>
<circle cx="248.00" cy="128.50" r="1.95" fill="#e6b520"/>
<circle cx="261.20" cy="96.90" r="1.95" fill="#2a2476"/>
<circle cx="263.50" cy="100.50" r="1.95" fill="#2a2476"/>
<circle cx="262.00" cy="111.00" r="1.95" fill="#2a2476"/>
<circle cx="268.60" cy="109.80" r="1.95" fill="#3a3a18"/>
<circle cx="280.50" cy="102.10" r="1.95" fill="#c21a5c"/>
<circle cx="283.10" cy="130.10" r="1.95" fill="#c21a5c"/>
<circle cx="291.10" cy="108.30" r="1.95" fill="#d86a28"/>
<circle cx="293.00" cy="108.50" r="1.95" fill="#d86a28"/>
<circle cx="299.00" cy="107.70" r="1.95" fill="#d86a28"/>
<circle cx="300.50" cy="108.50" r="1.95" fill="#d86a28"/>
<circle cx="302.00" cy="128.00" r="1.95" fill="#d86a28"/>
<circle cx="304.00" cy="110.50" r="1.95" fill="#e880b8"/>
<circle cx="306.00" cy="110.00" r="1.95" fill="#e880b8"/>
<circle cx="308.00" cy="106.50" r="1.95" fill="#e880b8"/>
<circle cx="313.50" cy="110.00" r="1.95" fill="#e880b8"/>
<circle cx="315.60" cy="98.60" r="1.95" fill="#e880b8"/>
<circle cx="319.00" cy="103.00" r="1.95" fill="#e880b8"/>
<circle cx="318.00" cy="107.00" r="1.95" fill="#e880b8"/>
<circle cx="316.00" cy="111.00" r="1.95" fill="#e880b8"/>
<circle cx="320.40" cy="138.80" r="1.95" fill="#e880b8"/>
<circle cx="311.00" cy="129.00" r="1.95" fill="#e880b8"/>
<circle cx="315.60" cy="80.90" r="1.95" fill="#dd2a12"/>
<circle cx="317.00" cy="81.00" r="1.95" fill="#dd2a12"/>
<circle cx="320.30" cy="81.40" r="1.95" fill="#e880b8"/>
<circle cx="334.50" cy="35.70" r="1.95" fill="#7a0c28"/>
<circle cx="334.50" cy="81.40" r="1.95" fill="#7a0c28"/>
<circle cx="334.50" cy="97.50" r="1.95" fill="#7a0c28"/>
<circle cx="334.50" cy="99.50" r="1.95" fill="#7a0c28"/>
<circle cx="336.00" cy="110.00" r="1.95" fill="#7a0c28"/>
<circle cx="334.00" cy="130.50" r="1.95" fill="#7a0c28"/>
<circle cx="337.00" cy="129.50" r="1.95" fill="#7a0c28"/>
<circle cx="334.50" cy="139.70" r="1.95" fill="#7a0c28"/>
<circle cx="326.00" cy="110.00" r="1.95" fill="#6cc0a8"/>
<circle cx="343.20" cy="108.30" r="1.95" fill="#0d7a5c"/>
<circle cx="345.00" cy="106.50" r="1.95" fill="#0d7a5c"/>
<circle cx="352.90" cy="98.60" r="1.95" fill="#0d7a5c"/>
<circle cx="349.00" cy="108.00" r="1.95" fill="#0d7a5c"/>
<circle cx="353.00" cy="110.00" r="1.95" fill="#0d7a5c"/>
<circle cx="347.00" cy="110.50" r="1.95" fill="#0d7a5c"/>
<circle cx="359.30" cy="96.20" r="1.95" fill="#1a8fd0"/>
<circle cx="357.50" cy="97.50" r="1.95" fill="#1a8fd0"/>
<circle cx="362.00" cy="97.50" r="1.95" fill="#1a8fd0"/>
<circle cx="357.00" cy="104.00" r="1.95" fill="#1a8fd0"/>
<circle cx="362.50" cy="104.00" r="1.95" fill="#1a8fd0"/>
<circle cx="361.50" cy="108.00" r="1.95" fill="#1a8fd0"/>
<circle cx="357.50" cy="110.00" r="1.95" fill="#1a8fd0"/>
<circle cx="362.00" cy="110.50" r="1.95" fill="#1a8fd0"/>
<circle cx="358.00" cy="129.00" r="1.95" fill="#1a8fd0"/>
<circle cx="361.50" cy="129.50" r="1.95" fill="#1a8fd0"/>
<circle cx="359.50" cy="131.00" r="1.95" fill="#1a8fd0"/>
<circle cx="361.00" cy="97.00" r="1.95" fill="#1a8fd0"/>
<circle cx="359.50" cy="99.00" r="1.95" fill="#1a8fd0"/>
<circle cx="360.00" cy="101.00" r="1.95" fill="#1a8fd0"/>
<circle cx="359.80" cy="103.00" r="1.95" fill="#1a8fd0"/>
<circle cx="360.50" cy="105.00" r="1.95" fill="#1a8fd0"/>
<circle cx="359.50" cy="107.00" r="1.95" fill="#1a8fd0"/>
<circle cx="360.00" cy="109.00" r="1.95" fill="#1a8fd0"/>
<circle cx="360.00" cy="111.00" r="1.95" fill="#1a8fd0"/>
<circle cx="360.00" cy="128.50" r="1.95" fill="#1a8fd0"/>
<circle cx="360.50" cy="130.00" r="1.95" fill="#1a8fd0"/>
<circle cx="367.70" cy="89.30" r="1.95" fill="#e6b520"/>
<circle cx="367.70" cy="98.60" r="1.95" fill="#e6b520"/>
<circle cx="365.00" cy="104.00" r="1.95" fill="#e6b520"/>
<circle cx="373.50" cy="105.30" r="1.95" fill="#e6b520"/>
<circle cx="367.00" cy="108.00" r="1.95" fill="#e6b520"/>
<circle cx="368.00" cy="110.50" r="1.95" fill="#e6b520"/>
<circle cx="367.50" cy="128.00" r="1.95" fill="#e6b520"/>
<circle cx="367.50" cy="133.40" r="1.95" fill="#e6b520"/>
<circle cx="383.10" cy="94.60" r="1.95" fill="#2a2476"/>
<circle cx="383.10" cy="98.60" r="1.95" fill="#2a2476"/>
<circle cx="387.50" cy="102.00" r="1.95" fill="#2a2476"/>
<circle cx="389.00" cy="106.00" r="1.95" fill="#2a2476"/>
<circle cx="382.50" cy="105.60" r="1.95" fill="#2a2476"/>
<circle cx="382.00" cy="110.00" r="1.95" fill="#2a2476"/>
<circle cx="386.50" cy="133.80" r="1.95" fill="#2a2476"/>
<circle cx="395.80" cy="109.70" r="1.95" fill="#3a3a18"/>
<circle cx="398.00" cy="110.50" r="1.95" fill="#3a3a18"/>
<circle cx="410.00" cy="110.30" r="1.95" fill="#c21a5c"/>
<circle cx="412.00" cy="110.30" r="1.95" fill="#c21a5c"/>
<circle cx="414.50" cy="110.60" r="1.95" fill="#c21a5c"/>
<circle cx="408.00" cy="128.50" r="1.95" fill="#c21a5c"/>
<circle cx="397.00" cy="110.20" r="1.95" fill="#3a3a18"/>
<circle cx="401.50" cy="111.00" r="1.95" fill="#3a3a18"/>
<circle cx="397.00" cy="128.00" r="1.95" fill="#3a3a18"/>
<circle cx="432.50" cy="110.30" r="1.95" fill="#e880b8"/>
<circle cx="427.00" cy="128.50" r="1.95" fill="#d86a28"/>
<circle cx="425.90" cy="42.60" r="1.95" fill="#d86a28"/>
<circle cx="425.60" cy="99.80" r="1.95" fill="#d86a28"/>
<circle cx="421.00" cy="108.00" r="1.95" fill="#d86a28"/>
<circle cx="424.00" cy="108.50" r="1.95" fill="#d86a28"/>
<circle cx="428.00" cy="108.00" r="1.95" fill="#d86a28"/>
<circle cx="426.00" cy="106.50" r="1.95" fill="#d86a28"/>
<circle cx="430.00" cy="110.00" r="1.95" fill="#d86a28"/>
<circle cx="426.00" cy="128.50" r="1.95" fill="#d86a28"/>
<circle cx="440.50" cy="104.50" r="1.95" fill="#6cc0a8"/>
<circle cx="440.00" cy="110.00" r="1.95" fill="#6cc0a8"/>
<circle cx="452.00" cy="110.50" r="1.95" fill="#3a3a18"/>
<circle cx="481.90" cy="75.80" r="1.95" fill="#e6b520"/>
<circle cx="481.50" cy="94.20" r="1.95" fill="#e6b520"/>
<circle cx="481.80" cy="100.50" r="1.95" fill="#e6b520"/>
<circle cx="487.00" cy="102.00" r="1.95" fill="#e6b520"/>
<circle cx="481.50" cy="106.00" r="1.95" fill="#e6b520"/>
<circle cx="471.00" cy="96.80" r="1.95" fill="#1a78a8"/>
<circle cx="468.00" cy="106.00" r="1.95" fill="#1a8fd0"/>
<circle cx="473.50" cy="103.50" r="1.95" fill="#1a8fd0"/>
<circle cx="474.00" cy="107.00" r="1.95" fill="#1a8fd0"/>
<circle cx="472.00" cy="110.00" r="1.95" fill="#1a8fd0"/>
<circle cx="495.00" cy="104.00" r="1.95" fill="#2a2476"/>
<circle cx="494.50" cy="110.00" r="1.95" fill="#2a2476"/>
<circle cx="498.00" cy="133.00" r="1.95" fill="#2a2476"/>
<circle cx="506.60" cy="94.80" r="1.95" fill="#3a3a18"/>
<circle cx="502.00" cy="106.00" r="1.95" fill="#3a3a18"/>
<circle cx="502.30" cy="108.20" r="1.95" fill="#3a3a18"/>
<circle cx="503.50" cy="110.50" r="1.95" fill="#3a3a18"/>
<circle cx="506.80" cy="108.50" r="1.95" fill="#3a3a18"/>
<circle cx="506.00" cy="111.00" r="1.95" fill="#3a3a18"/>
<circle cx="504.50" cy="128.30" r="1.95" fill="#3a3a18"/>
<circle cx="505.00" cy="130.50" r="1.95" fill="#3a3a18"/>
<circle cx="315.80" cy="80.90" r="2.4" fill="#dd2a12"/>
<circle cx="317.60" cy="81.20" r="2.2" fill="#dd2a12"/>
<circle cx="270.40" cy="33.20" r="2.5" fill="#e03a1e"/>
<line x1="273.00" y1="33.20" x2="280.50" y2="33.20" stroke="#999" stroke-width="0.8" />
<text transform="translate(282.00 36.20)" font-size="9.6" text-anchor="start" font-weight="normal" font-style="italic" fill="#1c1c1c" >COG3–46090371</text>
<text transform="translate(229.20 75.90)" font-size="9.5" text-anchor="start" font-weight="normal" font-style="italic" fill="#1c1c1c" >COPA–160302244</text>
<line x1="309.50" y1="77.00" x2="315.00" y2="80.30" stroke="#c98a9a" stroke-width="0.8" />
<text transform="translate(502.80 35.80)" font-size="10" text-anchor="end" font-weight="normal" font-style="italic" fill="#1c1c1c" >delta</text>
<line x1="58.40" y1="216.50" x2="58.40" y2="301.00" stroke="#1c1c1c" stroke-width="1.4" />
<line x1="58.00" y1="300.40" x2="137.60" y2="300.40" stroke="#1c1c1c" stroke-width="1.4" />
<line x1="55.50" y1="297.00" x2="58.50" y2="297.00" stroke="#1c1c1c" stroke-width="1" />
<text transform="translate(51.50 300.70) scale(0.9 1)" font-size="10.6" text-anchor="end" font-weight="normal" font-style="normal" fill="#1c1c1c" >0</text>
<line x1="55.50" y1="275.75" x2="58.50" y2="275.75" stroke="#1c1c1c" stroke-width="1" />
<text transform="translate(51.50 279.45) scale(0.9 1)" font-size="10.6" text-anchor="end" font-weight="normal" font-style="normal" fill="#1c1c1c" >20</text>
<line x1="55.50" y1="254.50" x2="58.50" y2="254.50" stroke="#1c1c1c" stroke-width="1" />
<text transform="translate(51.50 258.20) scale(0.9 1)" font-size="10.6" text-anchor="end" font-weight="normal" font-style="normal" fill="#1c1c1c" >40</text>
<line x1="55.50" y1="233.25" x2="58.50" y2="233.25" stroke="#1c1c1c" stroke-width="1" />
<text transform="translate(51.50 236.95) scale(0.9 1)" font-size="10.6" text-anchor="end" font-weight="normal" font-style="normal" fill="#1c1c1c" >60</text>
<line x1="79.80" y1="300.40" x2="79.80" y2="304.00" stroke="#1c1c1c" stroke-width="1.1" />
<line x1="116.60" y1="300.40" x2="116.60" y2="304.00" stroke="#1c1c1c" stroke-width="1.1" />
<text transform="translate(34.7 257.9) rotate(-90) scale(0.76 1)" font-size="11.6" text-anchor="middle" fill="#1c1c1c"><tspan font-style="italic">COG3</tspan> editing rate (%)</text>
<line x1="79.80" y1="258.20" x2="79.80" y2="277.70" stroke="#1c1c1c" stroke-width="0.8" stroke-dasharray="1.8,1.4" />
<line x1="79.80" y1="291.60" x2="79.80" y2="297.00" stroke="#1c1c1c" stroke-width="0.8" stroke-dasharray="1.8,1.4" />
<line x1="74.80" y1="258.20" x2="84.80" y2="258.20" stroke="#1c1c1c" stroke-width="0.9" />
<line x1="75.00" y1="297.00" x2="84.60" y2="297.00" stroke="#8a8a8a" stroke-width="0.7" />
<rect x="69.60" y="278.00" width="20.40" height="13.30" fill="#c4021f" stroke="#a00a22" stroke-width="0.6" />
<line x1="69.30" y1="287.60" x2="90.30" y2="287.60" stroke="#4a0010" stroke-width="1.3" />
<line x1="116.60" y1="230.30" x2="116.60" y2="260.00" stroke="#1c1c1c" stroke-width="0.8" stroke-dasharray="1.8,1.4" />
<line x1="116.60" y1="281.50" x2="116.60" y2="297.00" stroke="#1c1c1c" stroke-width="0.8" stroke-dasharray="1.8,1.4" />
<line x1="111.60" y1="230.30" x2="121.60" y2="230.30" stroke="#1c1c1c" stroke-width="0.9" />
<line x1="111.80" y1="297.00" x2="121.40" y2="297.00" stroke="#8a8a8a" stroke-width="0.7" />
<rect x="106.15" y="260.30" width="20.90" height="20.90" fill="#1a4a88" stroke="#143a6c" stroke-width="0.6" />
<line x1="105.85" y1="270.00" x2="127.35" y2="270.00" stroke="#0a1a33" stroke-width="1.3" />
<circle cx="116.60" cy="219.50" r="1.3" fill="#fff" stroke="#888" stroke-width="0.7"/>
<circle cx="116.60" cy="226.20" r="1.3" fill="#fff" stroke="#888" stroke-width="0.7"/>
<line x1="81.00" y1="228.00" x2="115.50" y2="228.00" stroke="#1c1c1c" stroke-width="1.4" />
<text transform="translate(98.60 226.80)" font-size="7.5" text-anchor="middle" font-weight="normal" font-style="normal" fill="#1c1c1c" >**</text>
<text transform="translate(84.20 311.50) rotate(-45) scale(0.85 1)" font-size="11.2" text-anchor="end" font-weight="normal" font-style="normal" fill="#1c1c1c" >CBF</text>
<text transform="translate(121.50 312.30) rotate(-45) scale(0.85 1)" font-size="11.2" text-anchor="end" font-weight="normal" font-style="normal" fill="#1c1c1c" >non-CBF</text>
<text transform="translate(97.60 351.90) scale(0.73 1)" font-size="10.8" text-anchor="middle" font-weight="normal" font-style="normal" fill="#1c1c1c" >TCGA AML</text>
<line x1="181.30" y1="215.00" x2="181.30" y2="301.00" stroke="#1c1c1c" stroke-width="1.4" />
<line x1="180.80" y1="300.40" x2="261.30" y2="300.40" stroke="#1c1c1c" stroke-width="1.4" />
<line x1="178.30" y1="297.00" x2="181.30" y2="297.00" stroke="#1c1c1c" stroke-width="1" />
<text transform="translate(174.50 300.70) scale(0.9 1)" font-size="10.6" text-anchor="end" font-weight="normal" font-style="normal" fill="#1c1c1c" >0</text>
<line x1="178.30" y1="270.88" x2="181.30" y2="270.88" stroke="#1c1c1c" stroke-width="1" />
<text transform="translate(174.50 274.57) scale(0.9 1)" font-size="10.6" text-anchor="end" font-weight="normal" font-style="normal" fill="#1c1c1c" >5</text>
<line x1="178.30" y1="244.75" x2="181.30" y2="244.75" stroke="#1c1c1c" stroke-width="1" />
<text transform="translate(174.50 248.45) scale(0.9 1)" font-size="10.6" text-anchor="end" font-weight="normal" font-style="normal" fill="#1c1c1c" >10</text>
<line x1="178.30" y1="218.62" x2="181.30" y2="218.62" stroke="#1c1c1c" stroke-width="1" />
<text transform="translate(174.50 222.32) scale(0.9 1)" font-size="10.6" text-anchor="end" font-weight="normal" font-style="normal" fill="#1c1c1c" >15</text>
<line x1="203.10" y1="300.40" x2="203.10" y2="304.00" stroke="#1c1c1c" stroke-width="1.1" />
<line x1="238.90" y1="300.40" x2="238.90" y2="304.00" stroke="#1c1c1c" stroke-width="1.1" />
<text transform="translate(158 258) rotate(-90) scale(0.76 1)" font-size="11.6" text-anchor="middle" fill="#1c1c1c"><tspan font-style="italic">COPA</tspan> editing rate (%)</text>
<line x1="203.00" y1="288.30" x2="203.00" y2="292.00" stroke="#1c1c1c" stroke-width="0.8" stroke-dasharray="1.8,1.4" />
<line x1="203.00" y1="297.00" x2="203.00" y2="297.00" stroke="#1c1c1c" stroke-width="0.8" stroke-dasharray="1.8,1.4" />
<line x1="198.00" y1="288.30" x2="208.00" y2="288.30" stroke="#1c1c1c" stroke-width="0.9" />
<line x1="198.20" y1="297.00" x2="207.80" y2="297.00" stroke="#8a8a8a" stroke-width="0.7" />
<rect x="192.55" y="292.30" width="20.90" height="4.40" fill="#c4021f" stroke="#a00a22" stroke-width="0.6" />
<line x1="192.25" y1="295.00" x2="213.75" y2="295.00" stroke="#4a0010" stroke-width="1.3" />
<circle cx="203.00" cy="277.50" r="1.3" fill="#9a9a9a" stroke="#888" stroke-width="0.5"/>
<circle cx="203.00" cy="265.80" r="1.3" fill="#9a9a9a" stroke="#888" stroke-width="0.5"/>
<line x1="239.60" y1="240.00" x2="239.60" y2="272.00" stroke="#1c1c1c" stroke-width="0.8" stroke-dasharray="1.8,1.4" />
<line x1="239.60" y1="292.50" x2="239.60" y2="297.00" stroke="#1c1c1c" stroke-width="0.8" stroke-dasharray="1.8,1.4" />
<line x1="234.60" y1="240.00" x2="244.60" y2="240.00" stroke="#1c1c1c" stroke-width="0.9" />
<line x1="234.80" y1="297.00" x2="244.40" y2="297.00" stroke="#8a8a8a" stroke-width="0.7" />
<rect x="229.00" y="272.30" width="21.20" height="19.90" fill="#1a4a88" stroke="#143a6c" stroke-width="0.6" />
<line x1="228.70" y1="283.30" x2="250.50" y2="283.30" stroke="#0a1a33" stroke-width="1.3" />
<circle cx="239.60" cy="229.40" r="1.3" fill="#fff" stroke="#888" stroke-width="0.6"/>
<circle cx="239.60" cy="231.30" r="1.3" fill="#fff" stroke="#888" stroke-width="0.6"/>
<circle cx="239.60" cy="234.80" r="1.3" fill="#a0a0a0" stroke="#888" stroke-width="0.6"/>
<line x1="205.50" y1="226.30" x2="238.80" y2="226.30" stroke="#1c1c1c" stroke-width="1.3" />
<text transform="translate(222.00 224.50)" font-size="7" text-anchor="middle" font-weight="normal" font-style="normal" fill="#1c1c1c" >*</text>
<text transform="translate(208.00 311.30) rotate(-45) scale(0.85 1)" font-size="11.2" text-anchor="end" font-weight="normal" font-style="normal" fill="#1c1c1c" >CBF</text>
<text transform="translate(244.60 312.00) rotate(-45) scale(0.85 1)" font-size="11.2" text-anchor="end" font-weight="normal" font-style="normal" fill="#1c1c1c" >non-CBF</text>
<text transform="translate(221.90 352.70) scale(0.73 1)" font-size="10.8" text-anchor="middle" font-weight="normal" font-style="normal" fill="#1c1c1c" >TCGA AML</text>
<text transform="translate(340.10 209.80)" font-size="10.6" text-anchor="middle" font-weight="normal" font-style="normal" fill="#1c1c1c" >Kasumi-1</text>
<line x1="309.50" y1="219.30" x2="376.30" y2="219.30" stroke="#1c1c1c" stroke-width="1.2" />
<text transform="translate(357.00 233.00)" font-size="9.5" text-anchor="middle" font-weight="normal" font-style="normal" fill="#1c1c1c" >COG3</text>
<line x1="332.00" y1="235.50" x2="382.00" y2="235.50" stroke="#1c1c1c" stroke-width="1.2" />
<text transform="translate(322.50 250.50)" font-size="9" text-anchor="middle" font-weight="normal" font-style="normal" fill="#1c1c1c" >EV</text>
<text transform="translate(342.00 250.50)" font-size="9" text-anchor="middle" font-weight="normal" font-style="normal" fill="#1c1c1c" >WT</text>
<text transform="translate(366.50 250.50) scale(1.08 1)" font-size="9" text-anchor="middle" font-weight="normal" font-style="normal" fill="#1c1c1c" >I635V</text>
<rect x="311" y="259.5" width="63" height="23.30000000000001" fill="#8c8c8c"/>
<rect x="311.4" y="259.9" width="62.2" height="22.50000000000001" fill="none" stroke="#7e7e7e" stroke-width="0.8"/>
<rect x="315.40" y="270.70" width="15.00" height="3.40" rx="3.74" ry="1.70" fill="#2c2c2c" opacity="0.72" filter="url(#bl)"/>
<rect x="332.20" y="267.80" width="21.10" height="8.00" rx="7.03" ry="4.00" fill="#2c2c2c" opacity="1.0" filter="url(#bl)"/>
<rect x="354.40" y="268.40" width="17.10" height="6.80" rx="5.70" ry="3.40" fill="#2c2c2c" opacity="1.0" filter="url(#bl)"/>
<rect x="311" y="285" width="63" height="22" fill="#8c8c8c"/>
<rect x="311.4" y="285.4" width="62.2" height="21.2" fill="none" stroke="#7e7e7e" stroke-width="0.8"/>
<rect x="315.40" y="292.90" width="17.00" height="5.00" rx="5.50" ry="2.50" fill="#2c2c2c" opacity="0.88" filter="url(#bl)"/>
<rect x="333.60" y="292.90" width="19.70" height="5.00" rx="5.50" ry="2.50" fill="#2c2c2c" opacity="0.88" filter="url(#bl)"/>
<rect x="354.60" y="293.00" width="17.80" height="4.80" rx="5.28" ry="2.40" fill="#2c2c2c" opacity="0.88" filter="url(#bl)"/>
<text transform="translate(308.00 274.50)" font-size="9.5" text-anchor="end" font-weight="normal" font-style="normal" fill="#1c1c1c" >COG3</text>
<text transform="translate(307.80 298.50)" font-size="9.5" text-anchor="end" font-weight="normal" font-style="normal" fill="#1c1c1c" >GAPDH</text>
<text transform="translate(464.00 210.20)" font-size="10.6" text-anchor="middle" font-weight="normal" font-style="normal" fill="#1c1c1c" >Kasumi-1</text>
<line x1="432.50" y1="219.30" x2="499.50" y2="219.30" stroke="#1c1c1c" stroke-width="1.2" />
<text transform="translate(477.70 235.70)" font-size="9.8" text-anchor="middle" font-weight="normal" font-style="normal" fill="#1c1c1c" >COPA</text>
<line x1="453.00" y1="238.80" x2="503.00" y2="238.80" stroke="#1c1c1c" stroke-width="1.2" />
<text transform="translate(444.80 252.90)" font-size="9" text-anchor="middle" font-weight="normal" font-style="normal" fill="#1c1c1c" >EV</text>
<text transform="translate(464.60 252.90)" font-size="9" text-anchor="middle" font-weight="normal" font-style="normal" fill="#1c1c1c" >WT</text>
<text transform="translate(488.10 252.90) scale(1.08 1)" font-size="9" text-anchor="middle" font-weight="normal" font-style="normal" fill="#1c1c1c" >I164V</text>
<rect x="434.5" y="261.3" width="63.0" height="23.0" fill="#8c8c8c"/>
<rect x="434.9" y="261.7" width="62.2" height="22.2" fill="none" stroke="#7e7e7e" stroke-width="0.8"/>
<rect x="438.00" y="272.20" width="14.40" height="3.40" rx="3.74" ry="1.70" fill="#2c2c2c" opacity="0.7" filter="url(#bl)"/>
<rect x="456.90" y="271.10" width="16.30" height="4.80" rx="5.28" ry="2.40" fill="#2c2c2c" opacity="0.8" filter="url(#bl)"/>
<rect x="478.40" y="271.60" width="16.40" height="4.40" rx="4.84" ry="2.20" fill="#2c2c2c" opacity="0.78" filter="url(#bl)"/>
<rect x="434.5" y="286.9" width="63.0" height="20.200000000000045" fill="#8c8c8c"/>
<rect x="434.9" y="287.29999999999995" width="62.2" height="19.400000000000045" fill="none" stroke="#7e7e7e" stroke-width="0.8"/>
<rect x="438.00" y="295.00" width="18.40" height="5.40" rx="5.94" ry="2.70" fill="#2c2c2c" opacity="0.88" filter="url(#bl)"/>
<rect x="456.90" y="295.00" width="18.30" height="5.40" rx="5.94" ry="2.70" fill="#2c2c2c" opacity="0.88" filter="url(#bl)"/>
<rect x="477.80" y="295.20" width="17.60" height="5.00" rx="5.50" ry="2.50" fill="#2c2c2c" opacity="0.85" filter="url(#bl)"/>
<text transform="translate(431.00 275.80)" font-size="9.5" text-anchor="end" font-weight="normal" font-style="normal" fill="#1c1c1c" >COPA</text>
<text transform="translate(430.90 299.60)" font-size="9.5" text-anchor="end" font-weight="normal" font-style="normal" fill="#1c1c1c" >GAPDH</text>
<text transform="translate(48.00 391.60)" font-size="9.5" text-anchor="middle" font-weight="normal" font-style="normal" fill="#1c1c1c" >EV</text>
<path d="M51.60 397.6 L54.80 397.6 L53.20 400.6 Z" fill="#111"/>
<text transform="translate(27.30 405.80)" font-size="5.2" text-anchor="middle" font-weight="normal" font-style="normal" fill="#7a7a7a" >G</text>
<text transform="translate(34.20 405.80)" font-size="5.2" text-anchor="middle" font-weight="normal" font-style="normal" fill="#7a7a7a" >G</text>
<text transform="translate(40.00 405.80)" font-size="5.2" text-anchor="middle" font-weight="normal" font-style="normal" fill="#80c480" >A</text>
<text transform="translate(46.30 405.80)" font-size="5.2" text-anchor="middle" font-weight="normal" font-style="normal" fill="#80c480" >A</text>
<text transform="translate(53.00 405.80)" font-size="5.2" text-anchor="middle" font-weight="normal" font-style="normal" fill="#80c480" >A</text>
<text transform="translate(58.50 405.80)" font-size="5.2" text-anchor="middle" font-weight="normal" font-style="normal" fill="#e48c9e" >T</text>
<text transform="translate(64.90 405.80)" font-size="5.2" text-anchor="middle" font-weight="normal" font-style="normal" fill="#e48c9e" >T</text>
<text transform="translate(70.70 405.80)" font-size="5.2" text-anchor="middle" font-weight="normal" font-style="normal" fill="#e48c9e" >T</text>
<text transform="translate(55.50 414.80)" font-size="9.2" text-anchor="middle" font-weight="normal" font-style="normal" fill="#1c1c1c" >0%</text>
<line x1="24.10" y1="432.30" x2="74.40" y2="432.30" stroke="#e8a0ae" stroke-width="0.9" />
<path d="M24.10 432.30 C25.65 432.30 26.62 417.80 27.80 417.80 C28.76 417.80 30.20 423.19 30.80 427.60 C31.48 422.97 33.11 417.30 34.20 417.30 C35.19 417.30 36.00 432.30 37.30 432.30" stroke="#666666" stroke-width="0.95" fill="none"/>
<path d="M37.30 432.30 C38.27 432.30 38.86 418.00 39.60 418.00 C40.62 418.00 42.16 422.68 42.80 426.50 C43.62 421.87 45.59 416.20 46.90 416.20 C47.92 416.20 48.76 429.50 50.10 429.50 C51.19 429.50 51.87 423.70 52.70 423.70 C53.53 423.70 54.21 431.00 55.30 431.00" stroke="#88cc88" stroke-width="0.95" fill="none"/>
<path d="M55.30 431.00 C56.64 431.00 57.48 419.50 58.50 419.50 C59.62 419.50 61.30 424.28 62.00 428.20 C62.64 422.85 64.18 416.30 65.20 416.30 C66.03 416.30 67.28 422.30 67.80 427.20 C68.38 420.45 69.77 412.20 70.70 412.20 C71.82 412.20 72.73 432.30 74.20 432.30" stroke="#e4849a" stroke-width="0.95" fill="none"/>
<text transform="translate(109.00 391.60)" font-size="9.5" text-anchor="middle" font-weight="normal" font-style="italic" fill="#1c1c1c" >COG3-WT</text>
<path d="M112.60 397.6 L115.80 397.6 L114.20 400.6 Z" fill="#111"/>
<text transform="translate(88.30 405.80)" font-size="5.2" text-anchor="middle" font-weight="normal" font-style="normal" fill="#7a7a7a" >G</text>
<text transform="translate(95.20 405.80)" font-size="5.2" text-anchor="middle" font-weight="normal" font-style="normal" fill="#7a7a7a" >G</text>
<text transform="translate(101.00 405.80)" font-size="5.2" text-anchor="middle" font-weight="normal" font-style="normal" fill="#80c480" >A</text>
<text transform="translate(107.30 405.80)" font-size="5.2" text-anchor="middle" font-weight="normal" font-style="normal" fill="#80c480" >A</text>
<text transform="translate(114.00 405.80)" font-size="5.2" text-anchor="middle" font-weight="normal" font-style="normal" fill="#80c480" >A</text>
<text transform="translate(119.50 405.80)" font-size="5.2" text-anchor="middle" font-weight="normal" font-style="normal" fill="#e48c9e" >T</text>
<text transform="translate(125.90 405.80)" font-size="5.2" text-anchor="middle" font-weight="normal" font-style="normal" fill="#e48c9e" >T</text>
<text transform="translate(131.70 405.80)" font-size="5.2" text-anchor="middle" font-weight="normal" font-style="normal" fill="#e48c9e" >T</text>
<text transform="translate(114.20 414.80)" font-size="9.2" text-anchor="middle" font-weight="normal" font-style="normal" fill="#1c1c1c" >0%</text>
<line x1="85.10" y1="432.30" x2="135.40" y2="432.30" stroke="#e8a0ae" stroke-width="0.9" />
<path d="M85.10 432.30 C86.65 432.30 87.62 417.80 88.80 417.80 C89.76 417.80 91.20 423.19 91.80 427.60 C92.48 422.97 94.11 417.30 95.20 417.30 C96.19 417.30 97.00 432.30 98.30 432.30" stroke="#666666" stroke-width="0.95" fill="none"/>
<path d="M98.30 432.30 C99.27 432.30 99.86 418.00 100.60 418.00 C101.62 418.00 103.16 422.68 103.80 426.50 C104.62 421.87 106.59 416.20 107.90 416.20 C108.92 416.20 109.76 429.50 111.10 429.50 C112.19 429.50 112.87 423.70 113.70 423.70 C114.53 423.70 115.21 431.00 116.30 431.00" stroke="#88cc88" stroke-width="0.95" fill="none"/>
<path d="M116.30 431.00 C117.64 431.00 118.48 419.50 119.50 419.50 C120.62 419.50 122.30 424.28 123.00 428.20 C123.64 422.85 125.18 416.30 126.20 416.30 C127.03 416.30 128.28 422.30 128.80 427.20 C129.38 420.45 130.77 412.20 131.70 412.20 C132.82 412.20 133.73 432.30 135.20 432.30" stroke="#e4849a" stroke-width="0.95" fill="none"/>
<text transform="translate(168.50 391.60)" font-size="9.5" text-anchor="middle" font-weight="normal" font-style="italic" fill="#1c1c1c" >COG3-I635V</text>
<path d="M172.10 397.6 L175.30 397.6 L173.70 400.6 Z" fill="#111"/>
<text transform="translate(147.80 405.80)" font-size="5.2" text-anchor="middle" font-weight="normal" font-style="normal" fill="#7a7a7a" >G</text>
<text transform="translate(154.70 405.80)" font-size="5.2" text-anchor="middle" font-weight="normal" font-style="normal" fill="#7a7a7a" >G</text>
<text transform="translate(160.50 405.80)" font-size="5.2" text-anchor="middle" font-weight="normal" font-style="normal" fill="#80c480" >A</text>
<text transform="translate(166.80 405.80)" font-size="5.2" text-anchor="middle" font-weight="normal" font-style="normal" fill="#80c480" >A</text>
<text transform="translate(173.50 405.80)" font-size="5.2" text-anchor="middle" font-weight="normal" font-style="normal" fill="#7a7a7a" >G</text>
<text transform="translate(179.00 405.80)" font-size="5.2" text-anchor="middle" font-weight="normal" font-style="normal" fill="#e48c9e" >T</text>
<text transform="translate(185.40 405.80)" font-size="5.2" text-anchor="middle" font-weight="normal" font-style="normal" fill="#e48c9e" >T</text>
<text transform="translate(191.20 405.80)" font-size="5.2" text-anchor="middle" font-weight="normal" font-style="normal" fill="#e48c9e" >T</text>
<text transform="translate(177.50 414.80)" font-size="9.2" text-anchor="middle" font-weight="normal" font-style="normal" fill="#1c1c1c" >100%</text>
<line x1="144.60" y1="432.30" x2="194.90" y2="432.30" stroke="#e8a0ae" stroke-width="0.9" />
<path d="M144.60 432.30 C146.15 432.30 147.12 417.80 148.30 417.80 C149.26 417.80 150.70 423.19 151.30 427.60 C151.98 422.97 153.61 417.30 154.70 417.30 C155.69 417.30 156.50 432.30 157.80 432.30" stroke="#666666" stroke-width="0.95" fill="none"/>
<path d="M157.80 432.30 C158.77 432.30 159.36 418.00 160.10 418.00 C161.12 418.00 162.66 422.68 163.30 426.50 C164.12 421.87 166.09 416.20 167.40 416.20 C168.42 416.20 169.26 430.00 170.60 430.00" stroke="#88cc88" stroke-width="0.95" fill="none"/>
<path d="M170.60 430.00 C171.82 430.00 172.57 423.50 173.50 423.50 C174.27 423.50 174.89 431.00 175.90 431.00" stroke="#666666" stroke-width="0.95" fill="none"/>
<path d="M175.80 431.00 C177.14 431.00 177.98 419.50 179.00 419.50 C180.12 419.50 181.80 424.28 182.50 428.20 C183.14 422.85 184.68 416.30 185.70 416.30 C186.53 416.30 187.78 422.30 188.30 427.20 C188.88 420.45 190.27 412.20 191.20 412.20 C192.32 412.20 193.23 432.30 194.70 432.30" stroke="#e4849a" stroke-width="0.95" fill="none"/>
<text transform="translate(47.40 468.90)" font-size="9.5" text-anchor="middle" font-weight="normal" font-style="normal" fill="#1c1c1c" >EV</text>
<path d="M51.30 475.3 L54.50 475.3 L52.90 478.4 Z" fill="#111"/>
<text transform="translate(26.90 484.40)" font-size="5.2" text-anchor="middle" font-weight="normal" font-style="normal" fill="#7a7a7a" >G</text>
<text transform="translate(33.60 484.40)" font-size="5.2" text-anchor="middle" font-weight="normal" font-style="normal" fill="#7a7a7a" >G</text>
<text transform="translate(40.50 484.40)" font-size="5.2" text-anchor="middle" font-weight="normal" font-style="normal" fill="#80c480" >A</text>
<text transform="translate(46.80 484.40)" font-size="5.2" text-anchor="middle" font-weight="normal" font-style="normal" fill="#e48c9e" >T</text>
<text transform="translate(52.90 484.40)" font-size="5.2" text-anchor="middle" font-weight="normal" font-style="normal" fill="#80c480" >A</text>
<text transform="translate(58.60 484.40)" font-size="5.2" text-anchor="middle" font-weight="normal" font-style="normal" fill="#e48c9e" >T</text>
<text transform="translate(65.00 484.40)" font-size="5.2" text-anchor="middle" font-weight="normal" font-style="normal" fill="#e48c9e" >T</text>
<text transform="translate(70.20 484.40)" font-size="5.2" text-anchor="middle" font-weight="normal" font-style="normal" fill="#e48c9e" >T</text>
<text transform="translate(55.80 493.80)" font-size="9.2" text-anchor="middle" font-weight="normal" font-style="normal" fill="#1c1c1c" >0%</text>
<line x1="24.40" y1="511.50" x2="74.20" y2="511.50" stroke="#e8a0ae" stroke-width="0.9" />
<path d="M24.40 511.50 C25.58 511.50 26.30 494.80 27.20 494.80 C28.35 494.80 30.08 501.79 30.80 507.50 C31.40 502.55 32.84 496.50 33.80 496.50 C34.92 496.50 35.83 511.50 37.30 511.50" stroke="#666666" stroke-width="0.95" fill="none"/>
<path d="M37.30 511.50 C38.77 511.50 39.68 496.50 40.80 496.50 C41.73 496.50 42.48 510.70 43.70 510.70" stroke="#88cc88" stroke-width="0.95" fill="none"/>
<path d="M43.70 510.70 C45.00 510.70 45.81 496.00 46.80 496.00 C47.82 496.00 48.66 510.70 50.00 510.70" stroke="#e4849a" stroke-width="0.95" fill="none"/>
<path d="M50.00 510.70 C51.22 510.70 51.97 496.00 52.90 496.00 C53.83 496.00 54.58 511.50 55.80 511.50" stroke="#88cc88" stroke-width="0.95" fill="none"/>
<path d="M55.80 511.50 C56.98 511.50 57.70 496.00 58.60 496.00 C59.62 496.00 61.16 499.13 61.80 501.70 C62.40 498.60 63.84 494.80 64.80 494.80 C65.70 494.80 67.04 499.53 67.60 503.40 C68.22 500.56 69.71 497.10 70.70 497.10 C71.82 497.10 72.73 511.50 74.20 511.50" stroke="#e4849a" stroke-width="0.95" fill="none"/>
<text transform="translate(107.40 468.90)" font-size="9.5" text-anchor="middle" font-weight="normal" font-style="italic" fill="#1c1c1c" >COPA-WT</text>
<path d="M111.30 475.3 L114.50 475.3 L112.90 478.4 Z" fill="#111"/>
<text transform="translate(86.90 484.40)" font-size="5.2" text-anchor="middle" font-weight="normal" font-style="normal" fill="#7a7a7a" >G</text>
<text transform="translate(93.60 484.40)" font-size="5.2" text-anchor="middle" font-weight="normal" font-style="normal" fill="#7a7a7a" >G</text>
<text transform="translate(100.50 484.40)" font-size="5.2" text-anchor="middle" font-weight="normal" font-style="normal" fill="#80c480" >A</text>
<text transform="translate(106.80 484.40)" font-size="5.2" text-anchor="middle" font-weight="normal" font-style="normal" fill="#e48c9e" >T</text>
<text transform="translate(112.90 484.40)" font-size="5.2" text-anchor="middle" font-weight="normal" font-style="normal" fill="#80c480" >A</text>
<text transform="translate(118.60 484.40)" font-size="5.2" text-anchor="middle" font-weight="normal" font-style="normal" fill="#e48c9e" >T</text>
<text transform="translate(125.00 484.40)" font-size="5.2" text-anchor="middle" font-weight="normal" font-style="normal" fill="#e48c9e" >T</text>
<text transform="translate(130.20 484.40)" font-size="5.2" text-anchor="middle" font-weight="normal" font-style="normal" fill="#e48c9e" >T</text>
<text transform="translate(114.40 493.80)" font-size="9.2" text-anchor="middle" font-weight="normal" font-style="normal" fill="#1c1c1c" >0%</text>
<line x1="84.40" y1="511.50" x2="134.20" y2="511.50" stroke="#e8a0ae" stroke-width="0.9" />
<path d="M84.40 511.50 C85.58 511.50 86.30 494.80 87.20 494.80 C88.35 494.80 90.08 501.79 90.80 507.50 C91.40 502.55 92.84 496.50 93.80 496.50 C94.92 496.50 95.83 511.50 97.30 511.50" stroke="#666666" stroke-width="0.95" fill="none"/>
<path d="M97.30 511.50 C98.77 511.50 99.68 496.50 100.80 496.50 C101.73 496.50 102.48 510.70 103.70 510.70" stroke="#88cc88" stroke-width="0.95" fill="none"/>
<path d="M103.70 510.70 C105.00 510.70 105.81 496.00 106.80 496.00 C107.82 496.00 108.66 510.70 110.00 510.70" stroke="#e4849a" stroke-width="0.95" fill="none"/>
<path d="M110.00 510.70 C111.22 510.70 111.97 496.00 112.90 496.00 C113.83 496.00 114.58 511.50 115.80 511.50" stroke="#88cc88" stroke-width="0.95" fill="none"/>
<path d="M115.80 511.50 C116.98 511.50 117.70 496.00 118.60 496.00 C119.62 496.00 121.16 499.13 121.80 501.70 C122.40 498.60 123.84 494.80 124.80 494.80 C125.70 494.80 127.04 499.53 127.60 503.40 C128.22 500.56 129.71 497.10 130.70 497.10 C131.82 497.10 132.73 511.50 134.20 511.50" stroke="#e4849a" stroke-width="0.95" fill="none"/>
<text transform="translate(165.90 468.90)" font-size="9.5" text-anchor="middle" font-weight="normal" font-style="italic" fill="#1c1c1c" >COPA-I164V</text>
<path d="M169.80 475.3 L173.00 475.3 L171.40 478.4 Z" fill="#111"/>
<text transform="translate(145.40 484.40)" font-size="5.2" text-anchor="middle" font-weight="normal" font-style="normal" fill="#7a7a7a" >G</text>
<text transform="translate(152.10 484.40)" font-size="5.2" text-anchor="middle" font-weight="normal" font-style="normal" fill="#7a7a7a" >G</text>
<text transform="translate(159.00 484.40)" font-size="5.2" text-anchor="middle" font-weight="normal" font-style="normal" fill="#80c480" >A</text>
<text transform="translate(165.30 484.40)" font-size="5.2" text-anchor="middle" font-weight="normal" font-style="normal" fill="#e48c9e" >T</text>
<text transform="translate(171.40 484.40)" font-size="5.2" text-anchor="middle" font-weight="normal" font-style="normal" fill="#7a7a7a" >G</text>
<text transform="translate(177.10 484.40)" font-size="5.2" text-anchor="middle" font-weight="normal" font-style="normal" fill="#e48c9e" >T</text>
<text transform="translate(183.50 484.40)" font-size="5.2" text-anchor="middle" font-weight="normal" font-style="normal" fill="#e48c9e" >T</text>
<text transform="translate(188.70 484.40)" font-size="5.2" text-anchor="middle" font-weight="normal" font-style="normal" fill="#e48c9e" >T</text>
<text transform="translate(174.30 493.80)" font-size="9.2" text-anchor="middle" font-weight="normal" font-style="normal" fill="#1c1c1c" >93.2%</text>
<line x1="142.90" y1="511.50" x2="192.70" y2="511.50" stroke="#e8a0ae" stroke-width="0.9" />
<path d="M143.10 511.50 C144.57 511.50 145.48 494.80 146.60 494.80 C147.69 494.80 149.32 502.06 150.00 508.00 C150.60 502.06 152.04 494.80 153.00 494.80 C153.99 494.80 154.80 511.00 156.10 511.00" stroke="#666666" stroke-width="0.95" fill="none"/>
<path d="M156.10 511.00 C157.44 511.00 158.28 494.80 159.30 494.80 C160.32 494.80 161.16 510.50 162.50 510.50" stroke="#88cc88" stroke-width="0.95" fill="none"/>
<path d="M162.50 510.50 C163.84 510.50 164.68 498.80 165.70 498.80 C166.63 498.80 167.38 510.50 168.60 510.50" stroke="#e4849a" stroke-width="0.95" fill="none"/>
<path d="M168.60 510.50 C169.78 510.50 170.50 498.30 171.40 498.30 C172.33 498.30 173.08 511.00 174.30 511.00" stroke="#666666" stroke-width="0.95" fill="none"/>
<path d="M174.30 511.00 C175.64 511.00 176.48 494.80 177.50 494.80 C178.46 494.80 179.90 498.76 180.50 502.00 C181.20 499.52 182.88 496.50 184.00 496.50 C184.86 496.50 186.16 500.35 186.70 503.50 C187.36 500.80 188.94 497.50 190.00 497.50 C190.80 497.50 191.45 511.50 192.50 511.50" stroke="#e4849a" stroke-width="0.95" fill="none"/>
<text transform="translate(305.50 390.00)" font-size="10.5" text-anchor="middle" font-weight="normal" font-style="normal" fill="#1c1c1c" >Kasumi-1</text>
<line x1="259.80" y1="412.50" x2="259.80" y2="478.00" stroke="#1c1c1c" stroke-width="1.2" />
<line x1="259.20" y1="477.40" x2="352.60" y2="477.40" stroke="#1c1c1c" stroke-width="1.2" />
<line x1="256.80" y1="477.20" x2="259.80" y2="477.20" stroke="#1c1c1c" stroke-width="1" />
<text transform="translate(252.30 480.30) scale(0.92 1)" font-size="10.4" text-anchor="end" font-weight="normal" font-style="normal" fill="#1c1c1c" >0</text>
<line x1="256.80" y1="461.97" x2="259.80" y2="461.97" stroke="#1c1c1c" stroke-width="1" />
<text transform="translate(252.30 465.07) scale(0.92 1)" font-size="10.4" text-anchor="end" font-weight="normal" font-style="normal" fill="#1c1c1c" >50</text>
<line x1="256.80" y1="446.75" x2="259.80" y2="446.75" stroke="#1c1c1c" stroke-width="1" />
<text transform="translate(252.30 449.85) scale(0.92 1)" font-size="10.4" text-anchor="end" font-weight="normal" font-style="normal" fill="#1c1c1c" >100</text>
<line x1="256.80" y1="431.52" x2="259.80" y2="431.52" stroke="#1c1c1c" stroke-width="1" />
<text transform="translate(252.30 434.62) scale(0.92 1)" font-size="10.4" text-anchor="end" font-weight="normal" font-style="normal" fill="#1c1c1c" >150</text>
<line x1="256.80" y1="416.30" x2="259.80" y2="416.30" stroke="#1c1c1c" stroke-width="1" />
<text transform="translate(252.30 419.40) scale(0.92 1)" font-size="10.4" text-anchor="end" font-weight="normal" font-style="normal" fill="#1c1c1c" >200</text>
<text transform="translate(230.80 444.20) rotate(-90) scale(0.79 1)" font-size="11.4" text-anchor="middle" font-weight="normal" font-style="normal" fill="#1c1c1c" >Colonies/500 cells</text>
<rect x="269.60" y="433.50" width="17.00" height="43.90" fill="#1a4a88" stroke="#143a6c" stroke-width="0.6" />
<line x1="278.10" y1="430.20" x2="278.10" y2="433.70" stroke="#1a4a88" stroke-width="1.2" />
<line x1="273.40" y1="430.20" x2="282.80" y2="430.20" stroke="#1a4a88" stroke-width="1.2" />
<line x1="278.10" y1="477.40" x2="278.10" y2="480.80" stroke="#1c1c1c" stroke-width="1" />
<rect x="297.50" y="435.60" width="16.80" height="41.80" fill="#c4021f" stroke="#a00a22" stroke-width="0.6" />
<line x1="305.90" y1="432.30" x2="305.90" y2="435.80" stroke="#c4021f" stroke-width="1.2" />
<line x1="301.60" y1="432.30" x2="310.40" y2="432.30" stroke="#c4021f" stroke-width="1.2" />
<line x1="305.90" y1="477.40" x2="305.90" y2="480.80" stroke="#1c1c1c" stroke-width="1" />
<rect x="325.50" y="449.10" width="16.80" height="28.30" fill="#35a836" stroke="#2a8a2c" stroke-width="0.6" />
<line x1="333.90" y1="443.60" x2="333.90" y2="449.30" stroke="#35a836" stroke-width="1.2" />
<line x1="329.20" y1="443.60" x2="338.00" y2="443.60" stroke="#35a836" stroke-width="1.2" />
<line x1="333.90" y1="477.40" x2="333.90" y2="480.80" stroke="#1c1c1c" stroke-width="1" />
<line x1="278.70" y1="415.20" x2="333.30" y2="415.20" stroke="#1c1c1c" stroke-width="1.3" />
<text transform="translate(305.70 415.60)" font-size="7.5" text-anchor="middle" font-weight="normal" font-style="normal" fill="#1c1c1c" >**</text>
<line x1="278.70" y1="427.40" x2="305.70" y2="427.40" stroke="#1c1c1c" stroke-width="1.3" />
<text transform="translate(292.20 426.30)" font-size="7.5" text-anchor="middle" font-weight="normal" font-style="normal" fill="#1c1c1c" >ns</text>
<line x1="306.30" y1="424.10" x2="333.30" y2="424.10" stroke="#1c1c1c" stroke-width="1.3" />
<text transform="translate(319.60 424.10)" font-size="7.5" text-anchor="middle" font-weight="normal" font-style="normal" fill="#1c1c1c" >**</text>
<text transform="translate(282.30 488.30) rotate(-45) scale(0.88 1)" font-size="10.8" text-anchor="end" font-weight="normal" font-style="normal" fill="#1c1c1c" >EV</text>
<text transform="translate(310.60 489.50) rotate(-45) scale(0.88 1)" font-size="10.8" text-anchor="end" font-weight="normal" font-style="normal" fill="#1c1c1c" >COG3-WT</text>
<text transform="translate(339.00 489.50) rotate(-45) scale(0.88 1)" font-size="10.8" text-anchor="end" font-weight="normal" font-style="normal" fill="#1c1c1c" >COG3-I635V</text>
<text transform="translate(447.20 390.00)" font-size="10.5" text-anchor="middle" font-weight="normal" font-style="normal" fill="#1c1c1c" >Kasumi-1</text>
<line x1="402.00" y1="406.20" x2="402.00" y2="471.80" stroke="#1c1c1c" stroke-width="1.2" />
<line x1="401.40" y1="471.20" x2="494.90" y2="471.20" stroke="#1c1c1c" stroke-width="1.2" />
<line x1="399.00" y1="471.20" x2="402.00" y2="471.20" stroke="#1c1c1c" stroke-width="1" />
<text transform="translate(394.30 474.60) scale(0.92 1)" font-size="10.4" text-anchor="end" font-weight="normal" font-style="normal" fill="#1c1c1c" >0</text>
<line x1="399.00" y1="450.74" x2="402.00" y2="450.74" stroke="#1c1c1c" stroke-width="1" />
<text transform="translate(394.30 454.13) scale(0.92 1)" font-size="10.4" text-anchor="end" font-weight="normal" font-style="normal" fill="#1c1c1c" >50</text>
<line x1="399.00" y1="430.27" x2="402.00" y2="430.27" stroke="#1c1c1c" stroke-width="1" />
<text transform="translate(394.30 433.67) scale(0.92 1)" font-size="10.4" text-anchor="end" font-weight="normal" font-style="normal" fill="#1c1c1c" >100</text>
<line x1="399.00" y1="409.81" x2="402.00" y2="409.81" stroke="#1c1c1c" stroke-width="1" />
<text transform="translate(394.30 413.20) scale(0.92 1)" font-size="10.4" text-anchor="end" font-weight="normal" font-style="normal" fill="#1c1c1c" >150</text>
<text transform="translate(373.60 438.40) rotate(-90) scale(0.78 1)" font-size="11.4" text-anchor="middle" font-weight="normal" font-style="normal" fill="#1c1c1c" >Colonies/500 cells</text>
<rect x="411.80" y="426.10" width="16.90" height="45.10" fill="#1a4a88" stroke="#143a6c" stroke-width="0.6" />
<line x1="420.25" y1="424.60" x2="420.25" y2="426.30" stroke="#1a4a88" stroke-width="1.2" />
<line x1="415.60" y1="424.60" x2="424.60" y2="424.60" stroke="#1a4a88" stroke-width="1.2" />
<line x1="420.25" y1="471.20" x2="420.25" y2="474.60" stroke="#1c1c1c" stroke-width="1" />
<rect x="439.30" y="421.70" width="17.20" height="49.50" fill="#c4021f" stroke="#a00a22" stroke-width="0.6" />
<line x1="447.90" y1="421.40" x2="447.90" y2="437.50" stroke="#e04a60" stroke-width="1.0" />
<line x1="447.90" y1="412.50" x2="447.90" y2="421.90" stroke="#c4021f" stroke-width="1.2" />
<line x1="443.40" y1="412.50" x2="453.20" y2="412.50" stroke="#c4021f" stroke-width="1.2" />
<line x1="447.90" y1="471.20" x2="447.90" y2="474.60" stroke="#1c1c1c" stroke-width="1" />
<rect x="467.30" y="449.80" width="16.80" height="21.40" fill="#35a836" stroke="#2a8a2c" stroke-width="0.6" />
<line x1="475.70" y1="443.40" x2="475.70" y2="450.00" stroke="#35a836" stroke-width="1.2" />
<line x1="471.20" y1="443.40" x2="480.20" y2="443.40" stroke="#35a836" stroke-width="1.2" />
<line x1="475.70" y1="471.20" x2="475.70" y2="474.60" stroke="#1c1c1c" stroke-width="1" />
<line x1="420.30" y1="398.50" x2="475.80" y2="398.50" stroke="#1c1c1c" stroke-width="1.3" />
<text transform="translate(448.00 398.30)" font-size="7.5" text-anchor="middle" font-weight="normal" font-style="normal" fill="#1c1c1c" >**</text>
<line x1="420.30" y1="410.30" x2="447.80" y2="410.30" stroke="#1c1c1c" stroke-width="1.3" />
<text transform="translate(434.30 409.20)" font-size="7.5" text-anchor="middle" font-weight="normal" font-style="normal" fill="#1c1c1c" >ns</text>
<line x1="448.30" y1="406.80" x2="475.80" y2="406.80" stroke="#1c1c1c" stroke-width="1.3" />
<text transform="translate(461.80 407.00)" font-size="7.5" text-anchor="middle" font-weight="normal" font-style="normal" fill="#1c1c1c" >***</text>
<text transform="translate(423.50 481.50) rotate(-45) scale(0.88 1)" font-size="10.8" text-anchor="end" font-weight="normal" font-style="normal" fill="#1c1c1c" >EV</text>
<text transform="translate(452.00 484.50) rotate(-45) scale(0.88 1)" font-size="10.8" text-anchor="end" font-weight="normal" font-style="normal" fill="#1c1c1c" >COPA-WT</text>
<text transform="translate(480.50 484.50) rotate(-45) scale(0.88 1)" font-size="10.8" text-anchor="end" font-weight="normal" font-style="normal" fill="#1c1c1c" >COPA-I164V</text>
<rect x="0.5" y="0.5" width="519" height="533" fill="none" stroke="#3a3a3a" stroke-width="1.2"/>
</svg>
</body></html>
